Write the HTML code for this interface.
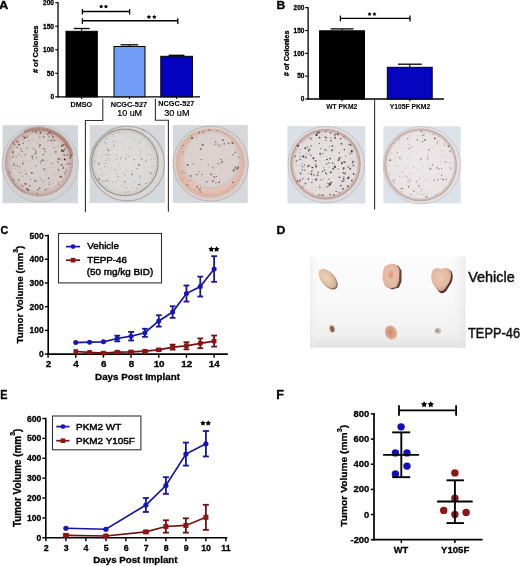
<!DOCTYPE html>
<html><head><meta charset="utf-8"><style>
html,body{margin:0;padding:0;background:#fff;width:520px;height:566px;overflow:hidden}
svg{display:block;font-family:"Liberation Sans", sans-serif;filter:blur(0.4px)}
</style></head><body>
<svg width="520" height="566" viewBox="0 0 520 566">
<rect width="520" height="566" fill="#fff"/>
<text transform="translate(-0.89,8.50) scale(1.1249,1)" font-size="11.45" font-weight="bold" fill="#000" stroke="#000" stroke-width="0.3" >A</text>
<line x1="58.00" y1="2.10" x2="58.00" y2="97.45" stroke="#000" stroke-width="1.3"/>
<line x1="57.35" y1="96.80" x2="200.00" y2="96.80" stroke="#000" stroke-width="1.3"/>
<line x1="55.20" y1="96.80" x2="58.00" y2="96.80" stroke="#000" stroke-width="1.1"/>
<text transform="translate(50.42,99.20) scale(0.9661,1)" font-size="6.86" font-weight="bold" fill="#000" stroke="#000" stroke-width="0.3">0</text>
<line x1="55.20" y1="73.28" x2="58.00" y2="73.28" stroke="#000" stroke-width="1.1"/>
<text transform="translate(46.71,75.68) scale(0.9661,1)" font-size="6.86" font-weight="bold" fill="#000" stroke="#000" stroke-width="0.3">50</text>
<line x1="55.20" y1="49.75" x2="58.00" y2="49.75" stroke="#000" stroke-width="1.1"/>
<text transform="translate(43.00,52.15) scale(0.9661,1)" font-size="6.86" font-weight="bold" fill="#000" stroke="#000" stroke-width="0.3">100</text>
<line x1="55.20" y1="26.22" x2="58.00" y2="26.22" stroke="#000" stroke-width="1.1"/>
<text transform="translate(43.00,28.62) scale(0.9661,1)" font-size="6.86" font-weight="bold" fill="#000" stroke="#000" stroke-width="0.3">150</text>
<line x1="55.20" y1="2.70" x2="58.00" y2="2.70" stroke="#000" stroke-width="1.1"/>
<text transform="translate(43.00,5.10) scale(0.9661,1)" font-size="6.86" font-weight="bold" fill="#000" stroke="#000" stroke-width="0.3">200</text>
<text transform="translate(38.40,73.05) rotate(-90) scale(0.9551,1)" font-size="7.95" font-weight="bold" fill="#000" stroke="#000" stroke-width="0.3"># of Colonies</text>
<line x1="81.65" y1="28.50" x2="81.65" y2="30.80" stroke="#000" stroke-width="1.2"/>
<line x1="73.80" y1="28.50" x2="89.60" y2="28.50" stroke="#000" stroke-width="1.3"/>
<rect x="66.00" y="31.30" width="31.30" height="65.50" fill="#000" stroke="#000" stroke-width="1"/>
<line x1="81.65" y1="96.80" x2="81.65" y2="99.00" stroke="#000" stroke-width="1.1"/>
<line x1="129.50" y1="44.80" x2="129.50" y2="46.00" stroke="#000" stroke-width="1.2"/>
<line x1="120.60" y1="44.80" x2="138.20" y2="44.80" stroke="#000" stroke-width="1.3"/>
<rect x="114.00" y="46.50" width="31.00" height="50.30" fill="#719df6" stroke="#000" stroke-width="1"/>
<line x1="129.50" y1="96.80" x2="129.50" y2="99.00" stroke="#000" stroke-width="1.1"/>
<line x1="176.65" y1="55.30" x2="176.65" y2="55.80" stroke="#000" stroke-width="1.2"/>
<line x1="168.60" y1="55.30" x2="184.40" y2="55.30" stroke="#000" stroke-width="1.3"/>
<rect x="160.80" y="56.30" width="31.70" height="40.50" fill="#0404c0" stroke="#000" stroke-width="1"/>
<line x1="176.65" y1="96.80" x2="176.65" y2="99.00" stroke="#000" stroke-width="1.1"/>
<line x1="82.40" y1="11.50" x2="129.60" y2="11.50" stroke="#000" stroke-width="1.4"/>
<line x1="82.40" y1="8.90" x2="82.40" y2="14.50" stroke="#000" stroke-width="1.3"/>
<line x1="129.60" y1="8.90" x2="129.60" y2="14.50" stroke="#000" stroke-width="1.3"/>
<polygon points="101.18,4.42 101.88,5.62 103.23,5.91 102.31,6.95 102.45,8.33 101.18,7.77 99.91,8.33 100.05,6.95 99.13,5.91 100.48,5.62" fill="#000"/>
<polygon points="105.92,4.42 106.62,5.62 107.97,5.91 107.05,6.95 107.19,8.33 105.92,7.77 104.65,8.33 104.79,6.95 103.87,5.91 105.22,5.62" fill="#000"/>
<line x1="82.40" y1="20.80" x2="177.80" y2="20.80" stroke="#000" stroke-width="1.4"/>
<line x1="82.40" y1="18.30" x2="82.40" y2="23.90" stroke="#000" stroke-width="1.3"/>
<line x1="177.80" y1="18.30" x2="177.80" y2="23.90" stroke="#000" stroke-width="1.3"/>
<polygon points="148.89,14.69 149.63,15.97 151.07,16.28 150.09,17.38 150.24,18.84 148.89,18.25 147.54,18.84 147.69,17.38 146.71,16.28 148.15,15.97" fill="#000"/>
<polygon points="154.31,14.69 155.05,15.97 156.49,16.28 155.51,17.38 155.66,18.84 154.31,18.25 152.96,18.84 153.11,17.38 152.13,16.28 153.57,15.97" fill="#000"/>
<text transform="translate(70.49,106.50) scale(0.9926,1)" font-size="7.29" font-weight="bold" fill="#000" stroke="#000" stroke-width="0.08" >DMSO</text>
<text transform="translate(110.73,106.50) scale(1.0102,1)" font-size="7.29" font-weight="bold" fill="#000" stroke="#000" stroke-width="0.08" >NCGC-527</text>
<text transform="translate(158.29,106.40) scale(1.0203,1)" font-size="7.14" font-weight="bold" fill="#000" stroke="#000" stroke-width="0.08" >NCGC-527</text>
<text transform="translate(117.29,116.40) scale(1.0375,1)" font-size="8.57" font-weight="normal" fill="#000" stroke="#000" stroke-width="0.2" >10 uM</text>
<text transform="translate(164.24,116.40) scale(1.0440,1)" font-size="8.71" font-weight="normal" fill="#000" stroke="#000" stroke-width="0.2" >30 uM</text>
<path d="M102.8 98.8 V120.5 H85.4 V212.2" fill="none" stroke="#333" stroke-width="1.1"/>
<path d="M155.4 98.8 V120.3 H168.4 V211.8" fill="none" stroke="#333" stroke-width="1.1"/>
<text transform="translate(276.55,8.60) scale(1.0463,1)" font-size="11.59" font-weight="bold" fill="#000" stroke="#000" stroke-width="0.3" >B</text>
<line x1="308.10" y1="7.10" x2="308.10" y2="99.65" stroke="#000" stroke-width="1.3"/>
<line x1="307.45" y1="99.00" x2="444.00" y2="99.00" stroke="#000" stroke-width="1.3"/>
<line x1="305.10" y1="99.00" x2="308.10" y2="99.00" stroke="#000" stroke-width="1.1"/>
<text transform="translate(300.82,101.30) scale(0.9796,1)" font-size="6.57" font-weight="bold" fill="#000" stroke="#000" stroke-width="0.3">0</text>
<line x1="305.10" y1="76.17" x2="308.10" y2="76.17" stroke="#000" stroke-width="1.1"/>
<text transform="translate(297.21,78.47) scale(0.9796,1)" font-size="6.57" font-weight="bold" fill="#000" stroke="#000" stroke-width="0.3">50</text>
<line x1="305.10" y1="53.35" x2="308.10" y2="53.35" stroke="#000" stroke-width="1.1"/>
<text transform="translate(293.61,55.65) scale(0.9796,1)" font-size="6.57" font-weight="bold" fill="#000" stroke="#000" stroke-width="0.3">100</text>
<line x1="305.10" y1="30.53" x2="308.10" y2="30.53" stroke="#000" stroke-width="1.1"/>
<text transform="translate(293.61,32.83) scale(0.9796,1)" font-size="6.57" font-weight="bold" fill="#000" stroke="#000" stroke-width="0.3">150</text>
<line x1="305.10" y1="7.70" x2="308.10" y2="7.70" stroke="#000" stroke-width="1.1"/>
<text transform="translate(293.61,10.00) scale(0.9796,1)" font-size="6.57" font-weight="bold" fill="#000" stroke="#000" stroke-width="0.3">200</text>
<text transform="translate(289.00,76.15) rotate(-90) scale(1.0202,1)" font-size="7.12" font-weight="bold" fill="#000" stroke="#000" stroke-width="0.3"># of Colonies</text>
<line x1="342.05" y1="28.90" x2="342.05" y2="30.30" stroke="#000" stroke-width="1.2"/>
<line x1="330.60" y1="28.90" x2="353.50" y2="28.90" stroke="#000" stroke-width="1.3"/>
<rect x="319.60" y="30.80" width="44.90" height="68.20" fill="#000" stroke="#000" stroke-width="1"/>
<line x1="342.05" y1="99.00" x2="342.05" y2="101.20" stroke="#000" stroke-width="1.1"/>
<line x1="409.75" y1="64.20" x2="409.75" y2="66.80" stroke="#000" stroke-width="1.2"/>
<line x1="398.00" y1="64.20" x2="421.80" y2="64.20" stroke="#000" stroke-width="1.3"/>
<rect x="387.30" y="67.30" width="44.90" height="31.70" fill="#0505bf" stroke="#000" stroke-width="1"/>
<line x1="409.75" y1="99.00" x2="409.75" y2="101.20" stroke="#000" stroke-width="1.1"/>
<line x1="340.40" y1="18.40" x2="410.00" y2="18.40" stroke="#000" stroke-width="1.4"/>
<line x1="340.40" y1="15.60" x2="340.40" y2="21.40" stroke="#000" stroke-width="1.3"/>
<line x1="410.00" y1="15.60" x2="410.00" y2="21.40" stroke="#000" stroke-width="1.3"/>
<polygon points="369.53,12.04 370.21,13.20 371.52,13.48 370.62,14.48 370.76,15.82 369.53,15.28 368.30,15.82 368.44,14.48 367.54,13.48 368.85,13.20" fill="#000"/>
<polygon points="374.47,12.04 375.15,13.20 376.46,13.48 375.56,14.48 375.70,15.82 374.47,15.28 373.24,15.82 373.38,14.48 372.48,13.48 373.79,13.20" fill="#000"/>
<text transform="translate(326.25,108.50) scale(0.8411,1)" font-size="8.00" font-weight="bold" fill="#000" stroke="#000" stroke-width="0.08" >WT PKM2</text>
<text transform="translate(389.66,108.50) scale(0.8938,1)" font-size="7.57" font-weight="bold" fill="#000" stroke="#000" stroke-width="0.08" >Y105F PKM2</text>
<line x1="374.60" y1="100.00" x2="374.60" y2="209.50" stroke="#333" stroke-width="1.1"/>
<defs><filter id="soft" x="-5%" y="-5%" width="110%" height="110%"><feGaussianBlur stdDeviation="0.35"/></filter></defs>
<g filter="url(#soft)">
<rect x="2.50" y="125.20" width="75.50" height="78.00" fill="#d2d6db"/>
<circle cx="40.2" cy="163.8" r="38.2" fill="#d2d0d0" stroke="#c2c1c1" stroke-width="1"/>
<defs><radialGradient id="pa1" cx="0.5" cy="0.5" r="0.5"><stop offset="0" stop-color="#d7d0cf"/><stop offset="0.8" stop-color="#d5cbc9"/><stop offset="0.93" stop-color="#c8b2ac"/><stop offset="1" stop-color="#b49a92"/></radialGradient></defs>
<circle cx="39.0" cy="162.4" r="34" fill="url(#pa1)"/>
<path d="M24 132 A34 34 0 0 1 72 156" fill="none" stroke="#a06a5a" stroke-width="3.6" opacity="0.6"/>
<path d="M8 170 A34 34 0 0 0 25 193" fill="none" stroke="#a88070" stroke-width="2" opacity="0.4"/>
<g><circle cx="37.5" cy="189.7" r="0.74" fill="#b8a8a4" opacity="0.55"/><circle cx="23.4" cy="140.4" r="0.83" fill="#b8a8a4" opacity="0.49"/><circle cx="55.4" cy="180.0" r="0.51" fill="#c0aca8" opacity="0.39"/><circle cx="58.1" cy="181.9" r="0.90" fill="#b8a8a4" opacity="0.60"/><circle cx="64.3" cy="177.4" r="0.84" fill="#c0aca8" opacity="0.38"/><circle cx="37.9" cy="130.3" r="0.80" fill="#b8a8a4" opacity="0.38"/><circle cx="10.4" cy="164.8" r="0.68" fill="#c0aca8" opacity="0.43"/><circle cx="59.2" cy="145.4" r="0.73" fill="#a89490" opacity="0.40"/><circle cx="48.8" cy="131.1" r="0.75" fill="#a89490" opacity="0.47"/><circle cx="60.8" cy="160.6" r="0.76" fill="#c0aca8" opacity="0.46"/><circle cx="46.0" cy="185.2" r="0.53" fill="#a89490" opacity="0.44"/><circle cx="33.1" cy="193.0" r="0.69" fill="#a89490" opacity="0.47"/><circle cx="40.3" cy="176.9" r="0.58" fill="#a89490" opacity="0.32"/><circle cx="23.5" cy="146.1" r="0.40" fill="#b8a8a4" opacity="0.43"/><circle cx="42.7" cy="185.4" r="0.75" fill="#c0aca8" opacity="0.43"/><circle cx="50.4" cy="180.3" r="0.83" fill="#c0aca8" opacity="0.57"/><circle cx="47.9" cy="191.6" r="0.59" fill="#b8a8a4" opacity="0.51"/><circle cx="61.5" cy="146.3" r="0.52" fill="#a89490" opacity="0.45"/><circle cx="65.7" cy="169.7" r="0.42" fill="#a89490" opacity="0.47"/><circle cx="29.3" cy="177.5" r="0.48" fill="#b8a8a4" opacity="0.51"/><circle cx="50.0" cy="154.5" r="0.61" fill="#a89490" opacity="0.48"/><circle cx="28.0" cy="131.8" r="0.81" fill="#a89490" opacity="0.49"/><circle cx="72.0" cy="163.0" r="0.46" fill="#c0aca8" opacity="0.39"/><circle cx="13.7" cy="151.4" r="0.87" fill="#b8a8a4" opacity="0.46"/><circle cx="58.1" cy="163.1" r="0.65" fill="#a89490" opacity="0.59"/><circle cx="46.0" cy="148.5" r="0.50" fill="#c0aca8" opacity="0.54"/><circle cx="7.5" cy="162.1" r="0.77" fill="#a89490" opacity="0.38"/><circle cx="45.9" cy="148.7" r="0.61" fill="#b8a8a4" opacity="0.37"/><circle cx="20.9" cy="150.6" r="0.72" fill="#c0aca8" opacity="0.43"/><circle cx="31.2" cy="168.2" r="0.78" fill="#b8a8a4" opacity="0.48"/><circle cx="28.6" cy="147.4" r="0.62" fill="#c0aca8" opacity="0.60"/><circle cx="30.2" cy="177.8" r="0.62" fill="#b8a8a4" opacity="0.34"/><circle cx="61.8" cy="181.8" r="0.51" fill="#c0aca8" opacity="0.39"/><circle cx="34.1" cy="181.2" r="0.45" fill="#a89490" opacity="0.45"/><circle cx="62.4" cy="139.4" r="0.42" fill="#b8a8a4" opacity="0.46"/><circle cx="46.2" cy="160.9" r="0.48" fill="#a89490" opacity="0.57"/><circle cx="40.6" cy="164.0" r="0.52" fill="#b8a8a4" opacity="0.56"/><circle cx="65.9" cy="179.4" r="0.44" fill="#b8a8a4" opacity="0.38"/><circle cx="54.4" cy="167.1" r="0.81" fill="#c0aca8" opacity="0.37"/><circle cx="46.0" cy="181.9" r="0.43" fill="#b8a8a4" opacity="0.46"/><circle cx="48.1" cy="170.5" r="0.67" fill="#a89490" opacity="0.54"/><circle cx="28.9" cy="170.1" r="0.67" fill="#c0aca8" opacity="0.38"/><circle cx="44.4" cy="164.2" r="0.76" fill="#a89490" opacity="0.33"/><circle cx="37.7" cy="172.3" r="0.57" fill="#b8a8a4" opacity="0.49"/><circle cx="17.3" cy="141.5" r="0.76" fill="#b8a8a4" opacity="0.39"/><circle cx="53.2" cy="174.0" r="0.90" fill="#c0aca8" opacity="0.44"/><circle cx="46.4" cy="172.8" r="0.55" fill="#a89490" opacity="0.46"/><circle cx="37.9" cy="181.4" r="0.87" fill="#c0aca8" opacity="0.37"/><circle cx="10.6" cy="178.9" r="0.78" fill="#c0aca8" opacity="0.45"/><circle cx="53.1" cy="183.2" r="0.88" fill="#c0aca8" opacity="0.44"/><circle cx="32.3" cy="133.1" r="0.41" fill="#c0aca8" opacity="0.57"/><circle cx="45.0" cy="149.8" r="0.45" fill="#c0aca8" opacity="0.48"/><circle cx="66.4" cy="177.6" r="0.69" fill="#b8a8a4" opacity="0.52"/><circle cx="45.3" cy="190.2" r="0.72" fill="#a89490" opacity="0.43"/><circle cx="69.4" cy="166.6" r="0.47" fill="#b8a8a4" opacity="0.55"/><circle cx="22.5" cy="139.5" r="0.61" fill="#b8a8a4" opacity="0.53"/><circle cx="13.4" cy="164.6" r="0.52" fill="#b8a8a4" opacity="0.46"/><circle cx="10.9" cy="148.9" r="0.85" fill="#a89490" opacity="0.50"/><circle cx="65.2" cy="171.1" r="0.61" fill="#a89490" opacity="0.57"/><circle cx="59.0" cy="164.0" r="0.47" fill="#c0aca8" opacity="0.44"/><circle cx="52.3" cy="138.6" r="0.76" fill="#a89490" opacity="0.50"/><circle cx="62.3" cy="177.7" r="0.46" fill="#b8a8a4" opacity="0.35"/><circle cx="63.8" cy="171.6" r="0.71" fill="#c0aca8" opacity="0.45"/><circle cx="53.5" cy="148.1" r="0.81" fill="#a89490" opacity="0.45"/><circle cx="30.5" cy="161.7" r="0.83" fill="#c0aca8" opacity="0.46"/><circle cx="24.8" cy="185.4" r="0.86" fill="#c0aca8" opacity="0.51"/><circle cx="13.7" cy="148.5" r="0.87" fill="#b8a8a4" opacity="0.39"/><circle cx="61.0" cy="160.5" r="0.61" fill="#a89490" opacity="0.47"/><circle cx="54.3" cy="168.6" r="0.40" fill="#c0aca8" opacity="0.46"/><circle cx="51.9" cy="142.1" r="0.62" fill="#b8a8a4" opacity="0.47"/><circle cx="48.3" cy="193.6" r="0.44" fill="#b8a8a4" opacity="0.33"/><circle cx="62.6" cy="155.7" r="0.71" fill="#b8a8a4" opacity="0.39"/><circle cx="46.6" cy="174.4" r="0.43" fill="#b8a8a4" opacity="0.43"/><circle cx="24.0" cy="139.0" r="0.75" fill="#a89490" opacity="0.54"/><circle cx="43.3" cy="168.7" r="0.71" fill="#a89490" opacity="0.46"/><circle cx="44.1" cy="134.3" r="0.45" fill="#c0aca8" opacity="0.53"/><circle cx="24.6" cy="170.1" r="0.54" fill="#a89490" opacity="0.47"/><circle cx="23.7" cy="171.1" r="0.77" fill="#a89490" opacity="0.36"/><circle cx="45.2" cy="166.0" r="0.46" fill="#b8a8a4" opacity="0.53"/><circle cx="44.5" cy="148.0" r="0.55" fill="#c0aca8" opacity="0.33"/><circle cx="33.2" cy="158.3" r="0.85" fill="#b8a8a4" opacity="0.46"/><circle cx="35.0" cy="147.0" r="0.57" fill="#b8a8a4" opacity="0.41"/><circle cx="33.6" cy="139.9" r="0.75" fill="#c0aca8" opacity="0.53"/><circle cx="18.7" cy="169.3" r="0.47" fill="#a89490" opacity="0.30"/><circle cx="51.4" cy="177.4" r="0.61" fill="#c0aca8" opacity="0.43"/><circle cx="20.4" cy="184.2" r="0.77" fill="#a89490" opacity="0.33"/><circle cx="46.3" cy="173.9" r="0.61" fill="#a89490" opacity="0.32"/><circle cx="28.5" cy="167.2" r="0.61" fill="#b8a8a4" opacity="0.36"/><circle cx="24.2" cy="148.6" r="0.41" fill="#c0aca8" opacity="0.54"/><circle cx="56.7" cy="151.4" r="0.44" fill="#b8a8a4" opacity="0.37"/><circle cx="51.8" cy="140.4" r="0.68" fill="#c0aca8" opacity="0.53"/><circle cx="63.3" cy="180.8" r="0.66" fill="#b8a8a4" opacity="0.44"/><circle cx="58.1" cy="146.8" r="0.68" fill="#b8a8a4" opacity="0.36"/><circle cx="45.9" cy="161.2" r="0.54" fill="#c0aca8" opacity="0.43"/><circle cx="50.5" cy="191.7" r="0.60" fill="#c0aca8" opacity="0.48"/><circle cx="41.9" cy="140.9" r="0.68" fill="#c0aca8" opacity="0.32"/><circle cx="43.7" cy="188.8" r="0.50" fill="#b8a8a4" opacity="0.56"/><circle cx="65.8" cy="169.1" r="0.62" fill="#a89490" opacity="0.52"/><circle cx="14.3" cy="182.1" r="0.65" fill="#c0aca8" opacity="0.56"/><circle cx="66.9" cy="179.1" r="0.69" fill="#a89490" opacity="0.43"/><circle cx="15.5" cy="160.6" r="0.43" fill="#a89490" opacity="0.54"/><circle cx="51.4" cy="187.6" r="0.41" fill="#a89490" opacity="0.51"/><circle cx="54.5" cy="146.0" r="0.42" fill="#b8a8a4" opacity="0.55"/><circle cx="34.0" cy="191.5" r="0.66" fill="#b8a8a4" opacity="0.34"/><circle cx="46.6" cy="135.4" r="0.41" fill="#c0aca8" opacity="0.47"/><circle cx="50.1" cy="182.3" r="0.50" fill="#b8a8a4" opacity="0.60"/><circle cx="25.9" cy="152.4" r="0.63" fill="#a89490" opacity="0.33"/><circle cx="22.0" cy="150.8" r="0.75" fill="#b8a8a4" opacity="0.36"/><circle cx="36.7" cy="142.1" r="0.50" fill="#c0aca8" opacity="0.60"/><circle cx="24.5" cy="132.8" r="0.47" fill="#a89490" opacity="0.49"/><circle cx="42.4" cy="131.6" r="0.82" fill="#a89490" opacity="0.47"/><circle cx="32.9" cy="138.2" r="0.44" fill="#a89490" opacity="0.52"/><circle cx="47.0" cy="143.1" r="0.61" fill="#c0aca8" opacity="0.53"/><circle cx="11.7" cy="171.0" r="0.45" fill="#b8a8a4" opacity="0.43"/><circle cx="32.2" cy="133.6" r="0.49" fill="#c0aca8" opacity="0.31"/><circle cx="62.9" cy="156.1" r="0.70" fill="#a89490" opacity="0.57"/><circle cx="38.4" cy="161.9" r="0.79" fill="#c0aca8" opacity="0.47"/><circle cx="23.2" cy="191.1" r="0.41" fill="#b8a8a4" opacity="0.42"/><circle cx="59.0" cy="186.0" r="0.62" fill="#b8a8a4" opacity="0.32"/><circle cx="54.4" cy="175.1" r="0.71" fill="#b8a8a4" opacity="0.50"/><circle cx="38.5" cy="139.4" r="0.69" fill="#b8a8a4" opacity="0.47"/><circle cx="11.7" cy="168.2" r="0.88" fill="#a89490" opacity="0.40"/><circle cx="48.0" cy="160.2" r="0.60" fill="#b8a8a4" opacity="0.42"/><circle cx="12.4" cy="144.3" r="0.48" fill="#b8a8a4" opacity="0.47"/><circle cx="25.4" cy="173.9" r="0.65" fill="#a89490" opacity="0.52"/><circle cx="26.3" cy="169.7" r="0.50" fill="#c0aca8" opacity="0.47"/><circle cx="36.1" cy="171.1" r="0.63" fill="#b8a8a4" opacity="0.36"/><circle cx="30.2" cy="142.7" r="0.44" fill="#b8a8a4" opacity="0.48"/><circle cx="22.8" cy="142.5" r="0.74" fill="#c0aca8" opacity="0.40"/><circle cx="43.5" cy="160.8" r="0.48" fill="#c0aca8" opacity="0.40"/><circle cx="37.7" cy="134.0" r="0.61" fill="#b8a8a4" opacity="0.57"/><circle cx="30.3" cy="142.8" r="0.58" fill="#c0aca8" opacity="0.35"/><circle cx="42.4" cy="135.5" r="0.52" fill="#a89490" opacity="0.56"/><circle cx="34.0" cy="163.0" r="0.56" fill="#b8a8a4" opacity="0.35"/><circle cx="42.7" cy="181.7" r="0.85" fill="#a89490" opacity="0.55"/><circle cx="36.6" cy="159.8" r="0.77" fill="#c0aca8" opacity="0.36"/><circle cx="47.3" cy="160.8" r="0.77" fill="#b8a8a4" opacity="0.37"/><circle cx="21.1" cy="172.7" r="0.81" fill="#c0aca8" opacity="0.39"/><circle cx="58.7" cy="170.9" r="0.72" fill="#b8a8a4" opacity="0.56"/><circle cx="22.8" cy="164.2" r="0.43" fill="#b8a8a4" opacity="0.34"/><circle cx="43.9" cy="171.1" r="0.73" fill="#b8a8a4" opacity="0.42"/><circle cx="23.4" cy="152.2" r="0.44" fill="#c0aca8" opacity="0.40"/><circle cx="18.0" cy="166.8" r="0.60" fill="#c0aca8" opacity="0.41"/><circle cx="22.1" cy="161.6" r="0.79" fill="#a89490" opacity="0.41"/><circle cx="50.4" cy="167.6" r="0.82" fill="#a89490" opacity="0.41"/><circle cx="19.7" cy="144.9" r="0.58" fill="#c0aca8" opacity="0.47"/><circle cx="38.5" cy="141.9" r="0.48" fill="#a89490" opacity="0.50"/><circle cx="65.7" cy="149.2" r="0.83" fill="#a89490" opacity="0.33"/><circle cx="46.3" cy="188.4" r="0.72" fill="#a89490" opacity="0.42"/><circle cx="24.1" cy="160.5" r="0.68" fill="#c0aca8" opacity="0.56"/><circle cx="38.1" cy="159.8" r="0.81" fill="#c0aca8" opacity="0.55"/><circle cx="56.0" cy="134.8" r="0.59" fill="#c0aca8" opacity="0.39"/><circle cx="58.6" cy="141.1" r="0.81" fill="#b8a8a4" opacity="0.31"/><circle cx="40.8" cy="130.0" r="0.78" fill="#c0aca8" opacity="0.56"/><circle cx="64.6" cy="145.6" r="0.58" fill="#b8a8a4" opacity="0.44"/><circle cx="18.9" cy="152.4" r="0.58" fill="#b8a8a4" opacity="0.42"/><circle cx="69.7" cy="151.9" r="0.89" fill="#b8a8a4" opacity="0.54"/><circle cx="60.1" cy="164.6" r="0.49" fill="#a89490" opacity="0.36"/><circle cx="70.5" cy="154.6" r="0.57" fill="#c0aca8" opacity="0.46"/><circle cx="27.7" cy="160.6" r="0.69" fill="#b8a8a4" opacity="0.57"/></g>
<g><circle cx="64.8" cy="149.1" r="0.82" fill="#7a4a40" opacity="0.58"/><circle cx="60.4" cy="176.8" r="0.95" fill="#5a3430" opacity="0.81"/><circle cx="51.4" cy="140.4" r="0.98" fill="#7a4a40" opacity="0.77"/><circle cx="48.2" cy="188.2" r="0.50" fill="#4a2a28" opacity="0.54"/><circle cx="63.6" cy="151.1" r="0.92" fill="#5a3430" opacity="0.73"/><circle cx="54.4" cy="140.5" r="1.00" fill="#7a4a40" opacity="0.71"/><circle cx="26.0" cy="183.9" r="0.73" fill="#6a3a34" opacity="0.92"/><circle cx="39.6" cy="187.9" r="0.94" fill="#6a3a34" opacity="0.58"/><circle cx="10.0" cy="172.3" r="0.57" fill="#5a3430" opacity="0.79"/><circle cx="71.1" cy="157.3" r="0.51" fill="#5a3430" opacity="0.58"/><circle cx="66.6" cy="169.9" r="0.51" fill="#4a2a28" opacity="0.77"/><circle cx="18.8" cy="179.9" r="0.85" fill="#4a2a28" opacity="0.51"/><circle cx="67.6" cy="154.9" r="0.98" fill="#6a3a34" opacity="0.58"/><circle cx="27.9" cy="190.1" r="0.90" fill="#6a3a34" opacity="0.57"/><circle cx="27.9" cy="135.8" r="0.54" fill="#5a3430" opacity="0.52"/><circle cx="17.2" cy="147.3" r="0.90" fill="#6a3a34" opacity="0.53"/><circle cx="19.0" cy="144.6" r="1.00" fill="#5a3430" opacity="0.84"/><circle cx="65.0" cy="172.8" r="0.81" fill="#4a2a28" opacity="0.56"/><circle cx="27.7" cy="189.9" r="0.54" fill="#4a2a28" opacity="0.53"/><circle cx="36.5" cy="131.4" r="1.00" fill="#7a4a40" opacity="0.66"/><circle cx="62.0" cy="145.8" r="0.93" fill="#5a3430" opacity="0.89"/><circle cx="18.1" cy="141.5" r="0.83" fill="#5a3430" opacity="0.54"/><circle cx="34.8" cy="132.0" r="0.82" fill="#5a3430" opacity="0.70"/><circle cx="29.7" cy="185.8" r="1.03" fill="#7a4a40" opacity="0.55"/><circle cx="38.0" cy="189.9" r="0.87" fill="#6a3a34" opacity="0.59"/><circle cx="39.8" cy="130.4" r="0.77" fill="#7a4a40" opacity="0.61"/><circle cx="24.6" cy="137.8" r="0.94" fill="#6a3a34" opacity="0.91"/><circle cx="27.2" cy="188.9" r="0.96" fill="#5a3430" opacity="0.88"/><circle cx="64.1" cy="154.2" r="0.75" fill="#6a3a34" opacity="0.62"/><circle cx="53.2" cy="136.9" r="0.87" fill="#7a4a40" opacity="0.82"/><circle cx="26.8" cy="137.3" r="0.86" fill="#6a3a34" opacity="0.75"/><circle cx="13.4" cy="179.8" r="0.65" fill="#5a3430" opacity="0.85"/><circle cx="64.8" cy="159.8" r="0.79" fill="#4a2a28" opacity="0.79"/><circle cx="64.8" cy="155.5" r="0.76" fill="#5a3430" opacity="0.58"/><circle cx="39.8" cy="137.1" r="0.62" fill="#6a3a34" opacity="0.85"/><circle cx="65.6" cy="144.6" r="0.90" fill="#7a4a40" opacity="0.56"/><circle cx="69.1" cy="163.7" r="0.78" fill="#4a2a28" opacity="0.87"/><circle cx="51.7" cy="134.6" r="0.62" fill="#5a3430" opacity="0.90"/><circle cx="69.8" cy="158.0" r="0.68" fill="#5a3430" opacity="0.91"/><circle cx="22.4" cy="185.7" r="0.80" fill="#7a4a40" opacity="0.85"/><circle cx="66.7" cy="147.1" r="0.74" fill="#4a2a28" opacity="0.52"/><circle cx="63.6" cy="144.7" r="0.74" fill="#5a3430" opacity="0.90"/><circle cx="40.4" cy="133.0" r="0.96" fill="#6a3a34" opacity="0.75"/><circle cx="12.9" cy="152.1" r="0.96" fill="#6a3a34" opacity="0.91"/><circle cx="29.2" cy="190.0" r="0.65" fill="#7a4a40" opacity="0.72"/><circle cx="13.5" cy="142.6" r="0.78" fill="#5a3430" opacity="0.68"/><circle cx="64.5" cy="149.1" r="0.57" fill="#7a4a40" opacity="0.70"/><circle cx="11.0" cy="158.0" r="0.52" fill="#5a3430" opacity="0.62"/><circle cx="63.5" cy="168.0" r="0.66" fill="#6a3a34" opacity="0.83"/><circle cx="16.6" cy="141.4" r="0.57" fill="#4a2a28" opacity="0.73"/><circle cx="32.6" cy="131.4" r="0.51" fill="#6a3a34" opacity="0.78"/><circle cx="12.8" cy="156.7" r="0.80" fill="#6a3a34" opacity="0.76"/><circle cx="49.2" cy="136.8" r="0.67" fill="#6a3a34" opacity="0.92"/><circle cx="43.6" cy="137.0" r="0.99" fill="#5a3430" opacity="0.56"/><circle cx="37.1" cy="193.7" r="0.73" fill="#6a3a34" opacity="0.86"/><circle cx="47.9" cy="134.3" r="0.70" fill="#4a2a28" opacity="0.87"/><circle cx="40.6" cy="132.1" r="0.60" fill="#5a3430" opacity="0.53"/><circle cx="13.2" cy="165.4" r="0.59" fill="#4a2a28" opacity="0.57"/><circle cx="61.9" cy="151.1" r="1.02" fill="#5a3430" opacity="0.71"/><circle cx="14.5" cy="144.4" r="0.96" fill="#7a4a40" opacity="0.58"/><circle cx="61.8" cy="150.2" r="0.94" fill="#5a3430" opacity="0.65"/><circle cx="49.1" cy="132.5" r="0.85" fill="#6a3a34" opacity="0.68"/><circle cx="49.8" cy="132.4" r="0.91" fill="#7a4a40" opacity="0.85"/><circle cx="58.6" cy="184.1" r="0.70" fill="#6a3a34" opacity="0.69"/><circle cx="65.0" cy="174.7" r="0.51" fill="#5a3430" opacity="0.66"/><circle cx="23.8" cy="136.3" r="0.81" fill="#7a4a40" opacity="0.74"/><circle cx="45.5" cy="189.9" r="0.82" fill="#5a3430" opacity="0.55"/><circle cx="37.0" cy="134.2" r="0.53" fill="#7a4a40" opacity="0.59"/><circle cx="66.2" cy="164.2" r="0.69" fill="#7a4a40" opacity="0.74"/><circle cx="70.8" cy="155.7" r="0.85" fill="#5a3430" opacity="0.86"/></g>
<g><circle cx="17.4" cy="165.9" r="0.78" fill="#4a3230" opacity="0.47"/><circle cx="57.8" cy="162.0" r="0.77" fill="#5a4040" opacity="0.63"/><circle cx="18.5" cy="154.5" r="0.52" fill="#5a4040" opacity="0.62"/><circle cx="32.4" cy="172.9" r="0.74" fill="#3a2a2a" opacity="0.50"/><circle cx="28.9" cy="140.5" r="0.49" fill="#5a4040" opacity="0.86"/><circle cx="61.6" cy="176.9" r="0.92" fill="#6a5050" opacity="0.46"/><circle cx="58.5" cy="158.8" r="0.89" fill="#4a3230" opacity="0.68"/><circle cx="20.9" cy="155.9" r="0.49" fill="#6a5050" opacity="0.70"/><circle cx="22.4" cy="164.8" r="0.47" fill="#5a4040" opacity="0.76"/><circle cx="60.8" cy="159.1" r="0.63" fill="#6a5050" opacity="0.58"/><circle cx="34.8" cy="154.3" r="0.57" fill="#5a4040" opacity="0.58"/><circle cx="63.1" cy="166.7" r="0.67" fill="#5a4040" opacity="0.66"/><circle cx="36.5" cy="157.4" r="0.55" fill="#5a4040" opacity="0.70"/><circle cx="48.8" cy="182.7" r="0.47" fill="#3a2a2a" opacity="0.54"/><circle cx="20.6" cy="148.6" r="0.71" fill="#3a2a2a" opacity="0.58"/><circle cx="35.3" cy="180.7" r="0.93" fill="#5a4040" opacity="0.64"/><circle cx="19.5" cy="166.8" r="0.54" fill="#5a4040" opacity="0.78"/><circle cx="40.9" cy="161.2" r="0.58" fill="#3a2a2a" opacity="0.79"/><circle cx="49.3" cy="184.2" r="0.70" fill="#4a3230" opacity="0.52"/><circle cx="65.8" cy="159.7" r="0.70" fill="#3a2a2a" opacity="0.41"/><circle cx="55.3" cy="147.5" r="0.59" fill="#6a5050" opacity="0.46"/><circle cx="23.0" cy="163.4" r="0.79" fill="#5a4040" opacity="0.62"/><circle cx="18.9" cy="169.1" r="0.47" fill="#6a5050" opacity="0.57"/><circle cx="35.5" cy="150.4" r="0.59" fill="#4a3230" opacity="0.53"/><circle cx="35.6" cy="153.2" r="0.89" fill="#5a4040" opacity="0.61"/><circle cx="44.7" cy="180.0" r="0.48" fill="#3a2a2a" opacity="0.69"/><circle cx="40.1" cy="145.0" r="0.74" fill="#5a4040" opacity="0.85"/><circle cx="25.1" cy="154.7" r="0.63" fill="#5a4040" opacity="0.77"/><circle cx="61.6" cy="164.8" r="0.90" fill="#4a3230" opacity="0.80"/><circle cx="55.7" cy="151.9" r="0.84" fill="#4a3230" opacity="0.59"/><circle cx="36.1" cy="151.0" r="0.59" fill="#6a5050" opacity="0.80"/><circle cx="32.1" cy="155.8" r="0.72" fill="#6a5050" opacity="0.75"/><circle cx="32.7" cy="158.9" r="0.63" fill="#3a2a2a" opacity="0.44"/><circle cx="44.1" cy="168.7" r="0.61" fill="#6a5050" opacity="0.75"/><circle cx="35.9" cy="165.9" r="0.69" fill="#5a4040" opacity="0.62"/><circle cx="58.5" cy="169.7" r="0.68" fill="#4a3230" opacity="0.84"/><circle cx="41.2" cy="161.6" r="0.63" fill="#5a4040" opacity="0.54"/><circle cx="33.5" cy="148.8" r="0.71" fill="#3a2a2a" opacity="0.47"/><circle cx="48.6" cy="178.1" r="0.75" fill="#5a4040" opacity="0.82"/><circle cx="15.8" cy="168.3" r="0.47" fill="#6a5050" opacity="0.79"/><circle cx="16.1" cy="156.8" r="0.65" fill="#4a3230" opacity="0.74"/><circle cx="58.8" cy="158.9" r="0.79" fill="#4a3230" opacity="0.58"/><circle cx="30.6" cy="179.6" r="0.63" fill="#5a4040" opacity="0.55"/><circle cx="15.1" cy="165.9" r="0.52" fill="#6a5050" opacity="0.65"/><circle cx="43.8" cy="148.8" r="0.92" fill="#6a5050" opacity="0.70"/><circle cx="48.2" cy="140.3" r="0.75" fill="#3a2a2a" opacity="0.47"/><circle cx="23.3" cy="143.2" r="0.75" fill="#6a5050" opacity="0.79"/><circle cx="19.6" cy="172.5" r="0.62" fill="#6a5050" opacity="0.78"/><circle cx="26.2" cy="173.7" r="0.85" fill="#5a4040" opacity="0.48"/><circle cx="43.6" cy="154.7" r="0.58" fill="#3a2a2a" opacity="0.84"/><circle cx="64.6" cy="159.2" r="0.84" fill="#3a2a2a" opacity="0.83"/><circle cx="45.2" cy="151.6" r="0.89" fill="#3a2a2a" opacity="0.41"/><circle cx="62.4" cy="168.8" r="0.55" fill="#3a2a2a" opacity="0.50"/><circle cx="63.0" cy="150.6" r="0.84" fill="#4a3230" opacity="0.67"/><circle cx="32.2" cy="157.0" r="0.79" fill="#6a5050" opacity="0.67"/><circle cx="40.7" cy="163.6" r="0.51" fill="#6a5050" opacity="0.60"/><circle cx="26.8" cy="148.5" r="0.77" fill="#6a5050" opacity="0.59"/><circle cx="42.5" cy="159.6" r="0.87" fill="#5a4040" opacity="0.41"/><circle cx="14.1" cy="163.7" r="0.80" fill="#6a5050" opacity="0.88"/><circle cx="13.7" cy="154.4" r="0.64" fill="#5a4040" opacity="0.44"/><circle cx="31.5" cy="173.0" r="0.66" fill="#4a3230" opacity="0.80"/><circle cx="43.3" cy="160.5" r="0.79" fill="#4a3230" opacity="0.68"/><circle cx="21.8" cy="151.0" r="0.85" fill="#6a5050" opacity="0.71"/><circle cx="39.8" cy="144.8" r="0.72" fill="#5a4040" opacity="0.56"/><circle cx="22.1" cy="176.3" r="0.62" fill="#3a2a2a" opacity="0.43"/><circle cx="44.9" cy="169.8" r="0.69" fill="#3a2a2a" opacity="0.47"/><circle cx="51.9" cy="163.4" r="0.69" fill="#6a5050" opacity="0.77"/><circle cx="39.7" cy="146.7" r="0.64" fill="#6a5050" opacity="0.83"/><circle cx="25.0" cy="183.7" r="0.77" fill="#4a3230" opacity="0.71"/><circle cx="41.0" cy="179.0" r="0.76" fill="#6a5050" opacity="0.46"/></g>
</g>
<g filter="url(#soft)">
<rect x="89.70" y="125.10" width="75.30" height="77.80" fill="#d4d8dd"/>
<circle cx="127.2" cy="163.6" r="37.3" fill="#d8d7d6" stroke="#aaa7a4" stroke-width="1.1"/>
<defs><radialGradient id="pa2" cx="0.5" cy="0.5" r="0.5"><stop offset="0" stop-color="#dedddc"/><stop offset="0.85" stop-color="#dbd9d8"/><stop offset="1" stop-color="#cdc8c4"/></radialGradient></defs>
<circle cx="124.9" cy="162.4" r="33.2" fill="url(#pa2)" stroke="#9a948e" stroke-width="1.2"/>
<g><circle cx="151.8" cy="148.7" r="0.85" fill="#bcbcbc" opacity="0.33"/><circle cx="118.2" cy="180.3" r="0.58" fill="#a8a8a8" opacity="0.52"/><circle cx="111.2" cy="167.4" r="0.63" fill="#b0b0b0" opacity="0.31"/><circle cx="146.6" cy="159.8" r="0.41" fill="#a8a8a8" opacity="0.49"/><circle cx="120.2" cy="168.2" r="0.79" fill="#bcbcbc" opacity="0.48"/><circle cx="131.7" cy="175.1" r="0.77" fill="#a8a8a8" opacity="0.47"/><circle cx="141.0" cy="159.2" r="0.89" fill="#a8a8a8" opacity="0.47"/><circle cx="134.4" cy="181.8" r="0.80" fill="#b0b0b0" opacity="0.50"/><circle cx="130.3" cy="174.3" r="0.56" fill="#b0b0b0" opacity="0.54"/><circle cx="117.2" cy="158.0" r="0.61" fill="#bcbcbc" opacity="0.47"/><circle cx="120.4" cy="185.8" r="0.45" fill="#bcbcbc" opacity="0.57"/><circle cx="115.7" cy="188.1" r="0.67" fill="#b0b0b0" opacity="0.38"/><circle cx="117.1" cy="155.1" r="0.80" fill="#a8a8a8" opacity="0.45"/><circle cx="96.4" cy="154.0" r="0.70" fill="#b0b0b0" opacity="0.58"/><circle cx="119.5" cy="164.2" r="0.72" fill="#b0b0b0" opacity="0.42"/><circle cx="134.3" cy="138.5" r="0.89" fill="#b0b0b0" opacity="0.54"/><circle cx="95.0" cy="155.0" r="0.77" fill="#a8a8a8" opacity="0.40"/><circle cx="118.9" cy="162.8" r="0.53" fill="#a8a8a8" opacity="0.46"/><circle cx="138.6" cy="158.0" r="0.45" fill="#b0b0b0" opacity="0.46"/><circle cx="116.5" cy="140.8" r="0.52" fill="#b0b0b0" opacity="0.33"/><circle cx="141.7" cy="150.3" r="0.57" fill="#b0b0b0" opacity="0.57"/><circle cx="145.2" cy="146.7" r="0.61" fill="#bcbcbc" opacity="0.51"/><circle cx="124.3" cy="139.5" r="0.61" fill="#bcbcbc" opacity="0.39"/><circle cx="119.5" cy="157.9" r="0.54" fill="#b0b0b0" opacity="0.31"/><circle cx="113.4" cy="182.5" r="0.82" fill="#bcbcbc" opacity="0.37"/><circle cx="145.4" cy="173.4" r="0.67" fill="#bcbcbc" opacity="0.37"/><circle cx="151.6" cy="155.1" r="0.89" fill="#a8a8a8" opacity="0.38"/><circle cx="105.2" cy="181.6" r="0.47" fill="#b0b0b0" opacity="0.56"/><circle cx="126.4" cy="157.2" r="0.73" fill="#b0b0b0" opacity="0.52"/><circle cx="110.6" cy="170.3" r="0.70" fill="#bcbcbc" opacity="0.60"/><circle cx="103.8" cy="154.7" r="0.55" fill="#b0b0b0" opacity="0.57"/><circle cx="126.0" cy="170.0" r="0.85" fill="#b0b0b0" opacity="0.41"/><circle cx="113.7" cy="141.0" r="0.55" fill="#a8a8a8" opacity="0.40"/><circle cx="130.4" cy="147.1" r="0.87" fill="#b0b0b0" opacity="0.35"/><circle cx="100.4" cy="176.0" r="0.64" fill="#a8a8a8" opacity="0.47"/><circle cx="99.9" cy="156.2" r="0.59" fill="#b0b0b0" opacity="0.57"/><circle cx="114.6" cy="162.2" r="0.63" fill="#bcbcbc" opacity="0.34"/><circle cx="125.2" cy="159.7" r="0.42" fill="#b0b0b0" opacity="0.53"/><circle cx="125.4" cy="193.1" r="0.72" fill="#b0b0b0" opacity="0.31"/><circle cx="121.9" cy="180.8" r="0.47" fill="#b0b0b0" opacity="0.55"/><circle cx="134.3" cy="182.4" r="0.71" fill="#b0b0b0" opacity="0.41"/><circle cx="106.6" cy="144.1" r="0.70" fill="#b0b0b0" opacity="0.31"/><circle cx="136.2" cy="155.4" r="0.41" fill="#b0b0b0" opacity="0.48"/><circle cx="140.2" cy="155.4" r="0.85" fill="#b0b0b0" opacity="0.39"/><circle cx="135.4" cy="140.7" r="0.70" fill="#b0b0b0" opacity="0.40"/><circle cx="117.6" cy="172.4" r="0.51" fill="#a8a8a8" opacity="0.59"/><circle cx="125.6" cy="147.8" r="0.69" fill="#bcbcbc" opacity="0.58"/><circle cx="108.7" cy="181.5" r="0.77" fill="#a8a8a8" opacity="0.58"/><circle cx="100.7" cy="169.2" r="0.88" fill="#a8a8a8" opacity="0.49"/><circle cx="105.0" cy="181.1" r="0.82" fill="#a8a8a8" opacity="0.31"/><circle cx="116.5" cy="173.9" r="0.73" fill="#a8a8a8" opacity="0.35"/><circle cx="118.6" cy="166.5" r="0.56" fill="#b0b0b0" opacity="0.43"/><circle cx="108.0" cy="151.8" r="0.52" fill="#bcbcbc" opacity="0.39"/><circle cx="116.9" cy="189.3" r="0.60" fill="#a8a8a8" opacity="0.41"/><circle cx="147.1" cy="157.8" r="0.71" fill="#bcbcbc" opacity="0.43"/><circle cx="133.5" cy="181.1" r="0.50" fill="#b0b0b0" opacity="0.53"/><circle cx="123.2" cy="162.9" r="0.72" fill="#bcbcbc" opacity="0.38"/><circle cx="143.8" cy="166.5" r="0.89" fill="#bcbcbc" opacity="0.52"/><circle cx="153.7" cy="158.8" r="0.76" fill="#b0b0b0" opacity="0.34"/><circle cx="125.1" cy="134.5" r="0.63" fill="#b0b0b0" opacity="0.53"/><circle cx="102.1" cy="174.3" r="0.89" fill="#b0b0b0" opacity="0.54"/><circle cx="105.4" cy="143.9" r="0.70" fill="#b0b0b0" opacity="0.46"/><circle cx="141.3" cy="140.4" r="0.56" fill="#a8a8a8" opacity="0.51"/><circle cx="102.0" cy="163.4" r="0.80" fill="#bcbcbc" opacity="0.39"/><circle cx="152.2" cy="166.2" r="0.68" fill="#b0b0b0" opacity="0.57"/><circle cx="150.2" cy="173.0" r="0.47" fill="#bcbcbc" opacity="0.58"/><circle cx="151.7" cy="147.9" r="0.46" fill="#b0b0b0" opacity="0.55"/><circle cx="139.4" cy="135.7" r="0.42" fill="#bcbcbc" opacity="0.44"/><circle cx="140.4" cy="165.9" r="0.67" fill="#bcbcbc" opacity="0.43"/><circle cx="107.4" cy="139.3" r="0.50" fill="#bcbcbc" opacity="0.52"/><circle cx="113.8" cy="139.9" r="0.47" fill="#a8a8a8" opacity="0.55"/><circle cx="148.3" cy="171.9" r="0.47" fill="#b0b0b0" opacity="0.59"/><circle cx="109.3" cy="151.1" r="0.42" fill="#a8a8a8" opacity="0.53"/><circle cx="132.2" cy="138.8" r="0.47" fill="#a8a8a8" opacity="0.54"/><circle cx="106.6" cy="138.5" r="0.68" fill="#b0b0b0" opacity="0.59"/><circle cx="130.3" cy="155.3" r="0.56" fill="#bcbcbc" opacity="0.50"/><circle cx="137.3" cy="165.1" r="0.55" fill="#b0b0b0" opacity="0.55"/><circle cx="132.1" cy="171.5" r="0.69" fill="#bcbcbc" opacity="0.59"/><circle cx="139.1" cy="139.6" r="0.50" fill="#bcbcbc" opacity="0.35"/><circle cx="101.7" cy="156.9" r="0.87" fill="#b0b0b0" opacity="0.54"/><circle cx="122.5" cy="186.3" r="0.81" fill="#b0b0b0" opacity="0.52"/><circle cx="140.1" cy="175.9" r="0.43" fill="#a8a8a8" opacity="0.50"/><circle cx="151.9" cy="159.6" r="0.45" fill="#a8a8a8" opacity="0.37"/><circle cx="111.1" cy="147.6" r="0.51" fill="#b0b0b0" opacity="0.47"/><circle cx="113.0" cy="182.4" r="0.89" fill="#b0b0b0" opacity="0.33"/><circle cx="123.9" cy="150.3" r="0.68" fill="#b0b0b0" opacity="0.49"/><circle cx="118.1" cy="164.8" r="0.86" fill="#bcbcbc" opacity="0.38"/><circle cx="132.0" cy="187.5" r="0.74" fill="#a8a8a8" opacity="0.39"/><circle cx="148.2" cy="147.7" r="0.45" fill="#a8a8a8" opacity="0.46"/><circle cx="106.0" cy="181.0" r="0.49" fill="#b0b0b0" opacity="0.56"/><circle cx="153.3" cy="166.7" r="0.79" fill="#b0b0b0" opacity="0.51"/><circle cx="140.0" cy="142.0" r="0.73" fill="#a8a8a8" opacity="0.55"/><circle cx="148.2" cy="154.3" r="0.86" fill="#a8a8a8" opacity="0.34"/><circle cx="136.2" cy="174.1" r="0.67" fill="#bcbcbc" opacity="0.48"/><circle cx="102.6" cy="152.0" r="0.66" fill="#b0b0b0" opacity="0.50"/><circle cx="109.0" cy="150.8" r="0.57" fill="#b0b0b0" opacity="0.35"/><circle cx="146.3" cy="145.1" r="0.67" fill="#a8a8a8" opacity="0.56"/><circle cx="107.2" cy="186.4" r="0.79" fill="#b0b0b0" opacity="0.50"/><circle cx="123.3" cy="172.8" r="0.70" fill="#a8a8a8" opacity="0.37"/><circle cx="98.9" cy="175.6" r="0.52" fill="#bcbcbc" opacity="0.33"/><circle cx="109.2" cy="160.1" r="0.87" fill="#b0b0b0" opacity="0.36"/><circle cx="113.1" cy="134.0" r="0.89" fill="#bcbcbc" opacity="0.34"/><circle cx="113.1" cy="186.9" r="0.60" fill="#b0b0b0" opacity="0.41"/><circle cx="100.6" cy="147.4" r="0.43" fill="#a8a8a8" opacity="0.41"/><circle cx="102.6" cy="148.0" r="0.43" fill="#b0b0b0" opacity="0.34"/><circle cx="140.2" cy="176.0" r="0.83" fill="#b0b0b0" opacity="0.41"/><circle cx="140.4" cy="152.0" r="0.55" fill="#a8a8a8" opacity="0.56"/><circle cx="151.8" cy="147.0" r="0.50" fill="#a8a8a8" opacity="0.47"/><circle cx="146.7" cy="146.8" r="0.54" fill="#bcbcbc" opacity="0.45"/><circle cx="130.6" cy="136.5" r="0.82" fill="#bcbcbc" opacity="0.55"/><circle cx="105.0" cy="177.6" r="0.46" fill="#a8a8a8" opacity="0.30"/><circle cx="149.3" cy="147.6" r="0.62" fill="#b0b0b0" opacity="0.37"/><circle cx="117.4" cy="151.1" r="0.42" fill="#bcbcbc" opacity="0.56"/><circle cx="130.8" cy="178.6" r="0.64" fill="#b0b0b0" opacity="0.57"/><circle cx="130.3" cy="147.7" r="0.66" fill="#bcbcbc" opacity="0.35"/><circle cx="145.0" cy="161.3" r="0.50" fill="#a8a8a8" opacity="0.51"/><circle cx="153.4" cy="157.6" r="0.46" fill="#a8a8a8" opacity="0.52"/><circle cx="136.9" cy="188.0" r="0.51" fill="#bcbcbc" opacity="0.37"/><circle cx="116.0" cy="142.0" r="0.61" fill="#a8a8a8" opacity="0.59"/><circle cx="135.4" cy="190.1" r="0.42" fill="#b0b0b0" opacity="0.46"/></g>
<g><circle cx="138.0" cy="184.6" r="0.69" fill="#606060" opacity="0.57"/><circle cx="146.2" cy="161.0" r="0.83" fill="#606060" opacity="0.43"/><circle cx="125.8" cy="158.8" r="0.82" fill="#606060" opacity="0.54"/><circle cx="129.0" cy="148.0" r="0.50" fill="#707070" opacity="0.37"/><circle cx="120.6" cy="158.6" r="0.55" fill="#505050" opacity="0.57"/><circle cx="107.1" cy="138.2" r="0.41" fill="#505050" opacity="0.68"/><circle cx="146.0" cy="183.5" r="0.60" fill="#3a3a3a" opacity="0.60"/><circle cx="115.1" cy="169.4" r="0.70" fill="#606060" opacity="0.56"/><circle cx="137.2" cy="168.6" r="0.70" fill="#505050" opacity="0.71"/><circle cx="140.3" cy="177.3" r="0.77" fill="#606060" opacity="0.44"/><circle cx="140.0" cy="149.5" r="0.56" fill="#707070" opacity="0.55"/><circle cx="116.0" cy="182.0" r="0.52" fill="#606060" opacity="0.73"/><circle cx="118.7" cy="132.1" r="0.62" fill="#606060" opacity="0.57"/><circle cx="109.1" cy="154.8" r="0.84" fill="#606060" opacity="0.40"/><circle cx="105.1" cy="142.2" r="0.55" fill="#3a3a3a" opacity="0.69"/><circle cx="125.2" cy="175.1" r="0.82" fill="#707070" opacity="0.43"/><circle cx="106.8" cy="180.5" r="0.70" fill="#606060" opacity="0.75"/><circle cx="99.2" cy="179.4" r="0.83" fill="#3a3a3a" opacity="0.62"/><circle cx="105.9" cy="163.5" r="0.51" fill="#606060" opacity="0.74"/><circle cx="105.9" cy="154.6" r="0.58" fill="#505050" opacity="0.68"/><circle cx="128.6" cy="156.4" r="0.52" fill="#707070" opacity="0.48"/><circle cx="125.1" cy="181.9" r="0.79" fill="#606060" opacity="0.64"/><circle cx="151.5" cy="159.6" r="0.62" fill="#707070" opacity="0.46"/><circle cx="139.0" cy="164.9" r="0.78" fill="#3a3a3a" opacity="0.71"/><circle cx="108.6" cy="150.4" r="0.66" fill="#3a3a3a" opacity="0.73"/><circle cx="140.2" cy="180.6" r="0.46" fill="#707070" opacity="0.67"/><circle cx="112.9" cy="134.6" r="0.41" fill="#606060" opacity="0.62"/><circle cx="139.0" cy="143.4" r="0.52" fill="#606060" opacity="0.53"/><circle cx="131.3" cy="169.5" r="0.44" fill="#707070" opacity="0.36"/><circle cx="126.8" cy="154.3" r="0.45" fill="#3a3a3a" opacity="0.48"/><circle cx="107.8" cy="158.2" r="0.62" fill="#606060" opacity="0.45"/><circle cx="136.9" cy="188.5" r="0.49" fill="#505050" opacity="0.68"/><circle cx="107.4" cy="149.0" r="0.74" fill="#505050" opacity="0.38"/><circle cx="103.0" cy="181.1" r="0.58" fill="#606060" opacity="0.61"/><circle cx="124.4" cy="188.3" r="0.54" fill="#707070" opacity="0.37"/><circle cx="139.6" cy="184.4" r="0.85" fill="#707070" opacity="0.72"/><circle cx="134.1" cy="159.3" r="0.67" fill="#3a3a3a" opacity="0.58"/><circle cx="141.8" cy="158.9" r="0.71" fill="#606060" opacity="0.59"/><circle cx="150.7" cy="173.3" r="0.84" fill="#3a3a3a" opacity="0.51"/><circle cx="113.9" cy="145.6" r="0.79" fill="#707070" opacity="0.64"/><circle cx="94.7" cy="161.4" r="0.71" fill="#707070" opacity="0.67"/><circle cx="105.7" cy="160.3" r="0.58" fill="#505050" opacity="0.45"/><circle cx="121.5" cy="157.0" r="0.52" fill="#707070" opacity="0.62"/><circle cx="121.5" cy="141.8" r="0.51" fill="#707070" opacity="0.52"/><circle cx="129.0" cy="191.8" r="0.69" fill="#606060" opacity="0.37"/><circle cx="98.7" cy="163.7" r="0.80" fill="#3a3a3a" opacity="0.70"/><circle cx="125.8" cy="192.1" r="0.57" fill="#505050" opacity="0.63"/><circle cx="132.2" cy="174.3" r="0.79" fill="#505050" opacity="0.67"/><circle cx="116.6" cy="159.5" r="0.54" fill="#707070" opacity="0.77"/><circle cx="155.6" cy="159.1" r="0.47" fill="#3a3a3a" opacity="0.54"/><circle cx="108.5" cy="179.4" r="0.48" fill="#505050" opacity="0.39"/><circle cx="118.1" cy="176.5" r="0.78" fill="#606060" opacity="0.42"/><circle cx="126.8" cy="188.0" r="0.72" fill="#707070" opacity="0.42"/><circle cx="104.8" cy="166.6" r="0.68" fill="#606060" opacity="0.48"/><circle cx="112.8" cy="141.2" r="0.44" fill="#606060" opacity="0.79"/></g>
</g>
<g filter="url(#soft)">
<rect x="172.80" y="125.10" width="75.00" height="77.80" fill="#d4d8dd"/>
<circle cx="210.8" cy="163.6" r="37.6" fill="#d8cfcd" stroke="#bcb6b4" stroke-width="1"/>
<defs><radialGradient id="pa3" cx="0.5" cy="0.5" r="0.5"><stop offset="0" stop-color="#ead2c8"/><stop offset="0.8" stop-color="#e4c2b4"/><stop offset="1" stop-color="#d8b0a0"/></radialGradient></defs>
<circle cx="210.2" cy="163.2" r="34.5" fill="url(#pa3)"/>
<defs><radialGradient id="pa3b" cx="0.5" cy="0.5" r="0.5"><stop offset="0" stop-color="#dcd3d1"/><stop offset="0.9" stop-color="#dbd0ce"/><stop offset="1" stop-color="#cdbfbb"/></radialGradient></defs>
<circle cx="211.2" cy="159.8" r="29" fill="url(#pa3b)"/>
<g><circle cx="186.5" cy="150.8" r="0.81" fill="#b8a8a4" opacity="0.38"/><circle cx="241.3" cy="157.9" r="0.87" fill="#c4b0ac" opacity="0.40"/><circle cx="180.0" cy="172.8" r="0.72" fill="#c4b0ac" opacity="0.39"/><circle cx="179.1" cy="158.4" r="0.77" fill="#c4b0ac" opacity="0.56"/><circle cx="217.2" cy="146.0" r="0.56" fill="#b8a8a4" opacity="0.53"/><circle cx="216.0" cy="167.2" r="0.89" fill="#b8a8a4" opacity="0.39"/><circle cx="218.7" cy="161.5" r="0.58" fill="#b8a8a4" opacity="0.50"/><circle cx="191.6" cy="160.5" r="0.58" fill="#c4b0ac" opacity="0.50"/><circle cx="189.2" cy="179.6" r="0.84" fill="#b8a8a4" opacity="0.41"/><circle cx="219.5" cy="165.9" r="0.80" fill="#c4b0ac" opacity="0.30"/><circle cx="207.8" cy="176.7" r="0.50" fill="#c4b0ac" opacity="0.50"/><circle cx="186.2" cy="145.1" r="0.69" fill="#c4b0ac" opacity="0.44"/><circle cx="207.0" cy="162.3" r="0.59" fill="#c4b0ac" opacity="0.53"/><circle cx="233.8" cy="181.8" r="0.41" fill="#c4b0ac" opacity="0.46"/><circle cx="205.0" cy="131.6" r="0.82" fill="#c4b0ac" opacity="0.56"/><circle cx="207.2" cy="139.2" r="0.75" fill="#c4b0ac" opacity="0.57"/><circle cx="189.3" cy="167.0" r="0.65" fill="#c4b0ac" opacity="0.38"/><circle cx="188.3" cy="180.6" r="0.56" fill="#b8a8a4" opacity="0.59"/><circle cx="221.4" cy="170.7" r="0.76" fill="#c4b0ac" opacity="0.49"/><circle cx="221.7" cy="154.5" r="0.76" fill="#c4b0ac" opacity="0.41"/><circle cx="183.0" cy="174.0" r="0.86" fill="#b8a8a4" opacity="0.56"/><circle cx="225.6" cy="140.9" r="0.76" fill="#b8a8a4" opacity="0.37"/><circle cx="219.0" cy="132.9" r="0.44" fill="#b8a8a4" opacity="0.34"/><circle cx="218.3" cy="186.4" r="0.43" fill="#b8a8a4" opacity="0.50"/><circle cx="180.7" cy="147.3" r="0.74" fill="#b8a8a4" opacity="0.30"/><circle cx="183.2" cy="178.4" r="0.81" fill="#b8a8a4" opacity="0.34"/><circle cx="215.0" cy="137.2" r="0.50" fill="#b8a8a4" opacity="0.47"/><circle cx="205.2" cy="170.5" r="0.85" fill="#c4b0ac" opacity="0.45"/><circle cx="238.3" cy="156.3" r="0.82" fill="#b8a8a4" opacity="0.30"/><circle cx="192.4" cy="162.3" r="0.56" fill="#c4b0ac" opacity="0.46"/><circle cx="227.0" cy="173.8" r="0.78" fill="#b8a8a4" opacity="0.38"/><circle cx="180.5" cy="156.7" r="0.53" fill="#b8a8a4" opacity="0.35"/><circle cx="225.1" cy="179.4" r="0.63" fill="#b8a8a4" opacity="0.40"/><circle cx="215.3" cy="162.2" r="0.47" fill="#c4b0ac" opacity="0.36"/><circle cx="212.2" cy="187.8" r="0.81" fill="#c4b0ac" opacity="0.45"/><circle cx="181.2" cy="147.8" r="0.53" fill="#c4b0ac" opacity="0.53"/><circle cx="227.8" cy="189.5" r="0.57" fill="#b8a8a4" opacity="0.34"/><circle cx="190.4" cy="136.5" r="0.57" fill="#b8a8a4" opacity="0.54"/><circle cx="226.4" cy="140.3" r="0.46" fill="#c4b0ac" opacity="0.35"/><circle cx="188.9" cy="142.9" r="0.82" fill="#b8a8a4" opacity="0.45"/><circle cx="231.1" cy="140.7" r="0.83" fill="#c4b0ac" opacity="0.51"/><circle cx="206.3" cy="130.8" r="0.71" fill="#c4b0ac" opacity="0.37"/><circle cx="217.2" cy="141.1" r="0.60" fill="#c4b0ac" opacity="0.33"/><circle cx="218.6" cy="174.9" r="0.42" fill="#c4b0ac" opacity="0.35"/><circle cx="195.1" cy="189.7" r="0.82" fill="#b8a8a4" opacity="0.34"/><circle cx="220.2" cy="168.9" r="0.66" fill="#b8a8a4" opacity="0.57"/><circle cx="216.0" cy="142.0" r="0.45" fill="#c4b0ac" opacity="0.47"/><circle cx="191.5" cy="179.0" r="0.80" fill="#c4b0ac" opacity="0.60"/><circle cx="217.6" cy="191.6" r="0.49" fill="#c4b0ac" opacity="0.59"/><circle cx="205.6" cy="183.9" r="0.86" fill="#c4b0ac" opacity="0.37"/><circle cx="223.7" cy="163.2" r="0.64" fill="#b8a8a4" opacity="0.59"/><circle cx="238.0" cy="148.7" r="0.80" fill="#c4b0ac" opacity="0.36"/><circle cx="241.6" cy="169.9" r="0.53" fill="#c4b0ac" opacity="0.43"/><circle cx="203.5" cy="171.2" r="0.42" fill="#c4b0ac" opacity="0.39"/><circle cx="187.5" cy="138.4" r="0.77" fill="#c4b0ac" opacity="0.59"/><circle cx="217.6" cy="146.8" r="0.41" fill="#b8a8a4" opacity="0.53"/><circle cx="217.7" cy="131.6" r="0.42" fill="#b8a8a4" opacity="0.51"/><circle cx="220.9" cy="140.8" r="0.56" fill="#c4b0ac" opacity="0.33"/><circle cx="216.4" cy="143.5" r="0.88" fill="#c4b0ac" opacity="0.48"/><circle cx="208.2" cy="135.0" r="0.53" fill="#b8a8a4" opacity="0.60"/><circle cx="198.5" cy="184.9" r="0.76" fill="#b8a8a4" opacity="0.42"/><circle cx="207.6" cy="150.3" r="0.49" fill="#c4b0ac" opacity="0.54"/><circle cx="193.3" cy="185.0" r="0.54" fill="#b8a8a4" opacity="0.50"/><circle cx="200.6" cy="185.5" r="0.43" fill="#c4b0ac" opacity="0.46"/><circle cx="215.4" cy="173.7" r="0.65" fill="#b8a8a4" opacity="0.34"/><circle cx="223.4" cy="184.5" r="0.54" fill="#b8a8a4" opacity="0.35"/><circle cx="200.0" cy="141.3" r="0.46" fill="#b8a8a4" opacity="0.48"/><circle cx="223.5" cy="182.5" r="0.54" fill="#c4b0ac" opacity="0.48"/><circle cx="210.8" cy="142.6" r="0.87" fill="#b8a8a4" opacity="0.35"/><circle cx="216.8" cy="167.6" r="0.41" fill="#b8a8a4" opacity="0.35"/><circle cx="190.3" cy="155.6" r="0.71" fill="#b8a8a4" opacity="0.49"/><circle cx="203.8" cy="134.2" r="0.87" fill="#c4b0ac" opacity="0.49"/><circle cx="188.6" cy="182.2" r="0.58" fill="#b8a8a4" opacity="0.55"/><circle cx="235.3" cy="143.0" r="0.75" fill="#c4b0ac" opacity="0.45"/><circle cx="228.7" cy="159.3" r="0.82" fill="#b8a8a4" opacity="0.52"/><circle cx="213.6" cy="173.8" r="0.46" fill="#b8a8a4" opacity="0.47"/><circle cx="222.0" cy="159.8" r="0.45" fill="#c4b0ac" opacity="0.37"/><circle cx="211.4" cy="138.8" r="0.74" fill="#c4b0ac" opacity="0.41"/><circle cx="197.9" cy="182.0" r="0.43" fill="#b8a8a4" opacity="0.54"/><circle cx="202.1" cy="149.8" r="0.52" fill="#c4b0ac" opacity="0.60"/><circle cx="185.5" cy="177.5" r="0.76" fill="#b8a8a4" opacity="0.55"/><circle cx="234.2" cy="166.7" r="0.57" fill="#c4b0ac" opacity="0.55"/><circle cx="221.9" cy="151.8" r="0.46" fill="#b8a8a4" opacity="0.40"/><circle cx="232.5" cy="178.3" r="0.55" fill="#b8a8a4" opacity="0.38"/><circle cx="190.5" cy="153.0" r="0.78" fill="#c4b0ac" opacity="0.43"/><circle cx="214.9" cy="139.3" r="0.44" fill="#c4b0ac" opacity="0.42"/><circle cx="190.0" cy="180.9" r="0.81" fill="#b8a8a4" opacity="0.58"/><circle cx="223.6" cy="148.2" r="0.59" fill="#b8a8a4" opacity="0.49"/><circle cx="202.9" cy="180.5" r="0.78" fill="#c4b0ac" opacity="0.57"/><circle cx="192.8" cy="150.6" r="0.66" fill="#b8a8a4" opacity="0.37"/></g>
<g><circle cx="221.2" cy="162.9" r="0.67" fill="#4a3a3a" opacity="0.76"/><circle cx="233.2" cy="154.6" r="0.84" fill="#3a2c2c" opacity="0.51"/><circle cx="218.1" cy="163.7" r="0.58" fill="#3a2c2c" opacity="0.78"/><circle cx="182.1" cy="179.2" r="0.50" fill="#5a4444" opacity="0.46"/><circle cx="202.1" cy="174.6" r="0.67" fill="#4a3a3a" opacity="0.72"/><circle cx="214.0" cy="176.9" r="0.77" fill="#4a3a3a" opacity="0.70"/><circle cx="220.6" cy="145.3" r="0.56" fill="#5a4444" opacity="0.83"/><circle cx="238.0" cy="167.4" r="0.93" fill="#4a3a3a" opacity="0.74"/><circle cx="215.9" cy="182.9" r="0.65" fill="#4a3a3a" opacity="0.60"/><circle cx="193.4" cy="163.9" r="0.61" fill="#5a4444" opacity="0.71"/><circle cx="192.0" cy="138.0" r="0.98" fill="#4a3a3a" opacity="0.89"/><circle cx="214.7" cy="144.3" r="0.55" fill="#3a2c2c" opacity="0.73"/><circle cx="219.6" cy="146.8" r="0.55" fill="#3a2c2c" opacity="0.46"/><circle cx="187.4" cy="184.9" r="0.82" fill="#5a4444" opacity="0.58"/><circle cx="190.8" cy="135.5" r="0.56" fill="#5a4444" opacity="0.65"/><circle cx="182.6" cy="172.0" r="0.76" fill="#4a3a3a" opacity="0.50"/><circle cx="228.6" cy="143.2" r="0.98" fill="#4a3a3a" opacity="0.54"/><circle cx="203.3" cy="132.3" r="0.71" fill="#3a2c2c" opacity="0.67"/><circle cx="206.7" cy="181.8" r="0.79" fill="#4a3a3a" opacity="0.74"/><circle cx="224.2" cy="143.8" r="0.89" fill="#5a4444" opacity="0.72"/><circle cx="238.7" cy="157.1" r="0.59" fill="#5a4444" opacity="0.79"/><circle cx="208.2" cy="164.8" r="0.66" fill="#4a3a3a" opacity="0.58"/><circle cx="222.2" cy="161.5" r="0.76" fill="#3a2c2c" opacity="0.73"/><circle cx="232.4" cy="142.9" r="0.97" fill="#3a2c2c" opacity="0.84"/><circle cx="219.2" cy="182.4" r="0.83" fill="#3a2c2c" opacity="0.69"/><circle cx="190.8" cy="175.9" r="0.84" fill="#3a2c2c" opacity="0.66"/><circle cx="218.1" cy="144.9" r="0.65" fill="#5a4444" opacity="0.69"/><circle cx="209.2" cy="130.0" r="0.83" fill="#4a3a3a" opacity="0.71"/><circle cx="236.2" cy="169.0" r="0.85" fill="#4a3a3a" opacity="0.54"/><circle cx="196.8" cy="174.5" r="0.68" fill="#3a2c2c" opacity="0.77"/><circle cx="183.2" cy="145.5" r="0.60" fill="#4a3a3a" opacity="0.87"/><circle cx="235.5" cy="167.3" r="0.94" fill="#4a3a3a" opacity="0.57"/><circle cx="184.8" cy="173.0" r="0.57" fill="#5a4444" opacity="0.47"/><circle cx="199.2" cy="171.8" r="0.57" fill="#3a2c2c" opacity="0.61"/><circle cx="220.9" cy="159.2" r="0.57" fill="#3a2c2c" opacity="0.89"/><circle cx="199.4" cy="132.8" r="0.70" fill="#3a2c2c" opacity="0.74"/><circle cx="212.7" cy="167.5" r="0.72" fill="#5a4444" opacity="0.58"/><circle cx="226.3" cy="133.5" r="0.60" fill="#5a4444" opacity="0.57"/><circle cx="200.4" cy="192.0" r="0.77" fill="#4a3a3a" opacity="0.63"/><circle cx="211.1" cy="174.4" r="0.80" fill="#4a3a3a" opacity="0.80"/><circle cx="196.9" cy="137.6" r="0.46" fill="#5a4444" opacity="0.86"/><circle cx="235.4" cy="152.2" r="0.74" fill="#5a4444" opacity="0.84"/><circle cx="215.6" cy="141.9" r="0.57" fill="#5a4444" opacity="0.85"/><circle cx="234.0" cy="169.4" r="0.98" fill="#5a4444" opacity="0.56"/><circle cx="202.6" cy="144.8" r="0.99" fill="#4a3a3a" opacity="0.81"/><circle cx="197.0" cy="186.9" r="0.87" fill="#4a3a3a" opacity="0.64"/><circle cx="199.5" cy="189.5" r="0.96" fill="#5a4444" opacity="0.55"/><circle cx="201.4" cy="159.4" r="0.72" fill="#5a4444" opacity="0.66"/><circle cx="187.6" cy="164.9" r="0.83" fill="#3a2c2c" opacity="0.86"/><circle cx="200.8" cy="149.1" r="1.00" fill="#5a4444" opacity="0.66"/><circle cx="233.5" cy="170.7" r="0.95" fill="#5a4444" opacity="0.60"/><circle cx="214.8" cy="176.8" r="0.48" fill="#5a4444" opacity="0.84"/><circle cx="237.6" cy="168.8" r="0.70" fill="#3a2c2c" opacity="0.63"/><circle cx="217.6" cy="130.6" r="0.73" fill="#4a3a3a" opacity="0.59"/><circle cx="182.8" cy="151.9" r="0.70" fill="#3a2c2c" opacity="0.51"/><circle cx="200.5" cy="188.0" r="0.56" fill="#5a4444" opacity="0.74"/><circle cx="212.8" cy="181.1" r="0.98" fill="#5a4444" opacity="0.64"/><circle cx="223.1" cy="140.0" r="0.90" fill="#4a3a3a" opacity="0.64"/><circle cx="216.3" cy="176.5" r="0.59" fill="#4a3a3a" opacity="0.86"/><circle cx="232.9" cy="182.3" r="0.84" fill="#3a2c2c" opacity="0.59"/></g>
</g>
<g filter="url(#soft)">
<rect x="287.40" y="126.10" width="78.00" height="77.40" fill="#dbe0e7"/>
<circle cx="326.3" cy="164.6" r="38.3" fill="#dcdadc" stroke="#c4c2c4" stroke-width="1"/>
<defs><radialGradient id="pb1" cx="0.5" cy="0.5" r="0.5"><stop offset="0" stop-color="#e6e3e4"/><stop offset="0.88" stop-color="#e2dcdc"/><stop offset="0.96" stop-color="#c8aaa4"/><stop offset="1" stop-color="#b08e88"/></radialGradient></defs>
<circle cx="325.5" cy="164.2" r="35.2" fill="url(#pb1)"/>
<g><circle cx="352.0" cy="170.6" r="0.47" fill="#b8acac" opacity="0.44"/><circle cx="303.0" cy="170.8" r="0.41" fill="#c0b4b4" opacity="0.43"/><circle cx="302.5" cy="141.4" r="0.84" fill="#c0b4b4" opacity="0.59"/><circle cx="338.9" cy="191.2" r="0.81" fill="#b8acac" opacity="0.41"/><circle cx="341.4" cy="189.5" r="0.46" fill="#c0b4b4" opacity="0.42"/><circle cx="307.3" cy="154.8" r="0.42" fill="#b8acac" opacity="0.32"/><circle cx="334.8" cy="148.8" r="0.84" fill="#b8acac" opacity="0.46"/><circle cx="355.0" cy="161.8" r="0.73" fill="#b8acac" opacity="0.49"/><circle cx="346.9" cy="178.5" r="0.79" fill="#c0b4b4" opacity="0.57"/><circle cx="312.3" cy="187.6" r="0.62" fill="#b8acac" opacity="0.34"/><circle cx="326.7" cy="156.8" r="0.70" fill="#b8acac" opacity="0.41"/><circle cx="321.2" cy="156.3" r="0.90" fill="#c0b4b4" opacity="0.50"/><circle cx="296.2" cy="164.9" r="0.88" fill="#b8acac" opacity="0.51"/><circle cx="304.3" cy="167.6" r="0.79" fill="#b8acac" opacity="0.41"/><circle cx="345.1" cy="143.9" r="0.69" fill="#c0b4b4" opacity="0.39"/><circle cx="319.3" cy="166.3" r="0.40" fill="#b8acac" opacity="0.57"/><circle cx="328.3" cy="167.1" r="0.79" fill="#c0b4b4" opacity="0.55"/><circle cx="343.0" cy="180.3" r="0.53" fill="#c0b4b4" opacity="0.53"/><circle cx="342.3" cy="138.6" r="0.59" fill="#b8acac" opacity="0.51"/><circle cx="319.2" cy="134.2" r="0.74" fill="#c0b4b4" opacity="0.36"/><circle cx="323.7" cy="189.2" r="0.86" fill="#c0b4b4" opacity="0.40"/><circle cx="348.2" cy="171.7" r="0.79" fill="#b8acac" opacity="0.36"/><circle cx="309.7" cy="135.7" r="0.51" fill="#b8acac" opacity="0.36"/><circle cx="355.0" cy="160.3" r="0.59" fill="#b8acac" opacity="0.32"/><circle cx="329.5" cy="166.9" r="0.83" fill="#b8acac" opacity="0.55"/><circle cx="310.4" cy="155.9" r="0.46" fill="#b8acac" opacity="0.53"/><circle cx="325.4" cy="174.9" r="0.51" fill="#c0b4b4" opacity="0.47"/><circle cx="331.8" cy="184.5" r="0.41" fill="#c0b4b4" opacity="0.41"/><circle cx="316.0" cy="186.4" r="0.67" fill="#b8acac" opacity="0.35"/><circle cx="327.4" cy="170.6" r="0.53" fill="#c0b4b4" opacity="0.51"/><circle cx="340.6" cy="138.9" r="0.64" fill="#c0b4b4" opacity="0.40"/><circle cx="330.0" cy="191.8" r="0.64" fill="#c0b4b4" opacity="0.49"/><circle cx="305.4" cy="154.7" r="0.76" fill="#c0b4b4" opacity="0.59"/><circle cx="349.7" cy="149.0" r="0.67" fill="#c0b4b4" opacity="0.55"/><circle cx="321.4" cy="140.6" r="0.69" fill="#b8acac" opacity="0.36"/><circle cx="321.2" cy="160.8" r="0.45" fill="#b8acac" opacity="0.56"/><circle cx="351.0" cy="146.4" r="0.52" fill="#b8acac" opacity="0.60"/><circle cx="324.4" cy="187.0" r="0.63" fill="#c0b4b4" opacity="0.39"/><circle cx="298.7" cy="171.1" r="0.65" fill="#c0b4b4" opacity="0.33"/><circle cx="312.8" cy="179.5" r="0.79" fill="#c0b4b4" opacity="0.51"/><circle cx="311.3" cy="190.8" r="0.51" fill="#b8acac" opacity="0.54"/><circle cx="302.1" cy="187.4" r="0.52" fill="#b8acac" opacity="0.48"/><circle cx="342.5" cy="158.2" r="0.47" fill="#b8acac" opacity="0.35"/><circle cx="339.2" cy="192.8" r="0.69" fill="#b8acac" opacity="0.51"/><circle cx="323.7" cy="187.3" r="0.86" fill="#c0b4b4" opacity="0.36"/><circle cx="330.7" cy="154.7" r="0.77" fill="#b8acac" opacity="0.41"/><circle cx="334.5" cy="148.1" r="0.78" fill="#b8acac" opacity="0.38"/><circle cx="303.9" cy="153.8" r="0.43" fill="#c0b4b4" opacity="0.47"/><circle cx="302.8" cy="154.8" r="0.88" fill="#c0b4b4" opacity="0.30"/><circle cx="316.2" cy="165.1" r="0.45" fill="#c0b4b4" opacity="0.52"/><circle cx="316.7" cy="138.2" r="0.67" fill="#b8acac" opacity="0.44"/><circle cx="319.3" cy="171.3" r="0.57" fill="#c0b4b4" opacity="0.31"/><circle cx="335.7" cy="188.0" r="0.50" fill="#c0b4b4" opacity="0.56"/><circle cx="321.9" cy="164.8" r="0.75" fill="#b8acac" opacity="0.37"/><circle cx="348.6" cy="152.7" r="0.52" fill="#b8acac" opacity="0.53"/><circle cx="333.5" cy="157.6" r="0.41" fill="#b8acac" opacity="0.48"/><circle cx="324.1" cy="184.8" r="0.49" fill="#c0b4b4" opacity="0.35"/><circle cx="300.4" cy="165.4" r="0.87" fill="#c0b4b4" opacity="0.51"/><circle cx="313.8" cy="144.8" r="0.70" fill="#c0b4b4" opacity="0.36"/><circle cx="304.7" cy="140.2" r="0.81" fill="#b8acac" opacity="0.46"/><circle cx="296.1" cy="175.5" r="0.49" fill="#b8acac" opacity="0.56"/><circle cx="304.3" cy="171.8" r="0.46" fill="#c0b4b4" opacity="0.49"/><circle cx="351.5" cy="158.7" r="0.81" fill="#c0b4b4" opacity="0.42"/><circle cx="325.6" cy="160.5" r="0.56" fill="#b8acac" opacity="0.33"/><circle cx="347.0" cy="186.9" r="0.70" fill="#c0b4b4" opacity="0.50"/><circle cx="333.4" cy="166.0" r="0.77" fill="#c0b4b4" opacity="0.33"/><circle cx="337.4" cy="133.5" r="0.58" fill="#c0b4b4" opacity="0.57"/><circle cx="306.3" cy="183.1" r="0.67" fill="#b8acac" opacity="0.43"/><circle cx="328.6" cy="164.6" r="0.41" fill="#c0b4b4" opacity="0.38"/><circle cx="347.2" cy="167.6" r="0.42" fill="#c0b4b4" opacity="0.58"/><circle cx="319.7" cy="180.2" r="0.56" fill="#b8acac" opacity="0.41"/><circle cx="304.8" cy="158.4" r="0.58" fill="#b8acac" opacity="0.43"/><circle cx="301.9" cy="164.6" r="0.49" fill="#c0b4b4" opacity="0.33"/><circle cx="312.8" cy="169.6" r="0.74" fill="#c0b4b4" opacity="0.52"/><circle cx="304.3" cy="164.7" r="0.88" fill="#b8acac" opacity="0.40"/><circle cx="332.8" cy="139.2" r="0.66" fill="#c0b4b4" opacity="0.43"/><circle cx="322.1" cy="135.1" r="0.73" fill="#c0b4b4" opacity="0.55"/><circle cx="329.2" cy="159.2" r="0.72" fill="#c0b4b4" opacity="0.30"/><circle cx="332.5" cy="182.2" r="0.71" fill="#c0b4b4" opacity="0.40"/><circle cx="347.3" cy="151.9" r="0.54" fill="#c0b4b4" opacity="0.49"/><circle cx="316.1" cy="190.5" r="0.40" fill="#b8acac" opacity="0.60"/><circle cx="351.1" cy="174.3" r="0.47" fill="#c0b4b4" opacity="0.60"/><circle cx="343.8" cy="159.3" r="0.47" fill="#b8acac" opacity="0.37"/><circle cx="323.9" cy="177.6" r="0.62" fill="#b8acac" opacity="0.45"/><circle cx="334.5" cy="159.9" r="0.55" fill="#b8acac" opacity="0.51"/><circle cx="299.3" cy="159.6" r="0.78" fill="#c0b4b4" opacity="0.32"/><circle cx="311.6" cy="137.4" r="0.73" fill="#b8acac" opacity="0.44"/><circle cx="325.9" cy="151.1" r="0.64" fill="#c0b4b4" opacity="0.39"/><circle cx="337.2" cy="168.8" r="0.90" fill="#c0b4b4" opacity="0.48"/><circle cx="312.6" cy="193.3" r="0.69" fill="#b8acac" opacity="0.35"/><circle cx="350.3" cy="145.2" r="0.57" fill="#c0b4b4" opacity="0.52"/><circle cx="324.2" cy="160.4" r="0.57" fill="#b8acac" opacity="0.39"/><circle cx="326.4" cy="185.6" r="0.69" fill="#c0b4b4" opacity="0.41"/><circle cx="327.4" cy="180.0" r="0.52" fill="#c0b4b4" opacity="0.57"/><circle cx="320.7" cy="174.1" r="0.64" fill="#c0b4b4" opacity="0.40"/><circle cx="342.5" cy="168.5" r="0.56" fill="#c0b4b4" opacity="0.38"/><circle cx="319.7" cy="160.7" r="0.69" fill="#b8acac" opacity="0.57"/><circle cx="345.7" cy="168.2" r="0.46" fill="#b8acac" opacity="0.50"/><circle cx="350.6" cy="151.5" r="0.68" fill="#b8acac" opacity="0.54"/><circle cx="341.7" cy="162.3" r="0.80" fill="#c0b4b4" opacity="0.54"/><circle cx="338.2" cy="172.9" r="0.76" fill="#c0b4b4" opacity="0.54"/><circle cx="303.7" cy="142.8" r="0.74" fill="#c0b4b4" opacity="0.56"/><circle cx="307.6" cy="137.0" r="0.45" fill="#b8acac" opacity="0.59"/><circle cx="332.2" cy="145.7" r="0.61" fill="#b8acac" opacity="0.47"/><circle cx="326.4" cy="137.5" r="0.85" fill="#c0b4b4" opacity="0.36"/><circle cx="319.4" cy="184.8" r="0.80" fill="#b8acac" opacity="0.54"/><circle cx="350.5" cy="144.6" r="0.48" fill="#b8acac" opacity="0.44"/><circle cx="305.5" cy="157.0" r="0.49" fill="#c0b4b4" opacity="0.42"/><circle cx="314.5" cy="160.8" r="0.79" fill="#c0b4b4" opacity="0.55"/><circle cx="353.1" cy="165.3" r="0.54" fill="#c0b4b4" opacity="0.53"/><circle cx="321.6" cy="193.3" r="0.57" fill="#c0b4b4" opacity="0.38"/><circle cx="321.6" cy="133.5" r="0.69" fill="#c0b4b4" opacity="0.52"/><circle cx="351.8" cy="183.6" r="0.54" fill="#b8acac" opacity="0.57"/><circle cx="305.2" cy="184.7" r="0.88" fill="#b8acac" opacity="0.45"/><circle cx="338.5" cy="163.4" r="0.41" fill="#b8acac" opacity="0.43"/><circle cx="296.6" cy="150.9" r="0.74" fill="#c0b4b4" opacity="0.45"/><circle cx="341.0" cy="150.4" r="0.65" fill="#c0b4b4" opacity="0.34"/><circle cx="315.5" cy="162.5" r="0.52" fill="#b8acac" opacity="0.38"/><circle cx="338.5" cy="159.8" r="0.86" fill="#c0b4b4" opacity="0.38"/><circle cx="323.9" cy="167.4" r="0.59" fill="#b8acac" opacity="0.41"/></g>
<g><circle cx="313.7" cy="174.8" r="0.55" fill="#2a2020" opacity="0.91"/><circle cx="306.0" cy="157.3" r="0.89" fill="#4a3434" opacity="0.76"/><circle cx="309.4" cy="138.3" r="0.71" fill="#4a3434" opacity="0.57"/><circle cx="343.8" cy="161.7" r="0.60" fill="#3a2a2a" opacity="0.81"/><circle cx="343.8" cy="181.3" r="0.71" fill="#4a3434" opacity="0.63"/><circle cx="343.1" cy="172.7" r="0.74" fill="#3a2a2a" opacity="0.75"/><circle cx="347.8" cy="186.1" r="0.86" fill="#3a2a2a" opacity="0.94"/><circle cx="323.7" cy="179.6" r="0.47" fill="#5a4848" opacity="0.76"/><circle cx="348.4" cy="144.3" r="0.63" fill="#3a2a2a" opacity="0.57"/><circle cx="302.9" cy="178.8" r="0.75" fill="#3a2a2a" opacity="0.68"/><circle cx="333.2" cy="168.7" r="1.02" fill="#2a2020" opacity="0.68"/><circle cx="295.3" cy="156.3" r="0.84" fill="#4a3434" opacity="0.64"/><circle cx="335.1" cy="137.9" r="0.88" fill="#3a2a2a" opacity="0.81"/><circle cx="352.9" cy="161.7" r="0.99" fill="#3a2a2a" opacity="0.69"/><circle cx="308.8" cy="150.5" r="0.96" fill="#4a3434" opacity="0.93"/><circle cx="329.0" cy="183.5" r="0.73" fill="#5a4848" opacity="0.82"/><circle cx="348.7" cy="177.4" r="0.78" fill="#4a3434" opacity="0.92"/><circle cx="320.0" cy="194.8" r="0.65" fill="#5a4848" opacity="0.92"/><circle cx="329.5" cy="146.6" r="0.71" fill="#4a3434" opacity="0.54"/><circle cx="328.8" cy="179.3" r="0.73" fill="#4a3434" opacity="0.61"/><circle cx="300.4" cy="156.3" r="0.75" fill="#5a4848" opacity="0.55"/><circle cx="320.2" cy="153.8" r="1.05" fill="#4a3434" opacity="0.77"/><circle cx="303.3" cy="156.5" r="1.03" fill="#2a2020" opacity="0.90"/><circle cx="350.2" cy="168.7" r="1.02" fill="#4a3434" opacity="0.79"/><circle cx="297.7" cy="181.2" r="1.03" fill="#2a2020" opacity="0.52"/><circle cx="330.0" cy="184.3" r="1.01" fill="#2a2020" opacity="0.93"/><circle cx="343.0" cy="188.9" r="0.82" fill="#2a2020" opacity="0.87"/><circle cx="309.9" cy="149.3" r="0.69" fill="#4a3434" opacity="0.72"/><circle cx="343.8" cy="177.0" r="0.71" fill="#5a4848" opacity="0.72"/><circle cx="321.1" cy="179.8" r="0.73" fill="#5a4848" opacity="0.76"/><circle cx="353.6" cy="174.0" r="0.88" fill="#3a2a2a" opacity="0.82"/><circle cx="326.5" cy="137.8" r="0.70" fill="#2a2020" opacity="0.72"/><circle cx="306.4" cy="153.6" r="0.46" fill="#5a4848" opacity="0.57"/><circle cx="341.2" cy="185.5" r="0.77" fill="#2a2020" opacity="0.51"/><circle cx="307.6" cy="146.9" r="0.77" fill="#4a3434" opacity="0.61"/><circle cx="343.5" cy="169.2" r="0.76" fill="#3a2a2a" opacity="0.58"/><circle cx="299.8" cy="152.4" r="0.56" fill="#5a4848" opacity="0.58"/><circle cx="348.2" cy="178.0" r="1.01" fill="#3a2a2a" opacity="0.89"/><circle cx="322.9" cy="153.5" r="0.68" fill="#2a2020" opacity="0.53"/><circle cx="311.5" cy="138.9" r="0.67" fill="#3a2a2a" opacity="0.86"/><circle cx="343.8" cy="173.0" r="0.55" fill="#2a2020" opacity="0.71"/><circle cx="330.6" cy="172.3" r="0.96" fill="#2a2020" opacity="0.64"/><circle cx="323.5" cy="167.7" r="0.48" fill="#3a2a2a" opacity="0.69"/><circle cx="350.4" cy="144.9" r="1.03" fill="#2a2020" opacity="0.62"/><circle cx="317.6" cy="175.2" r="0.99" fill="#5a4848" opacity="0.71"/><circle cx="308.8" cy="165.7" r="0.86" fill="#2a2020" opacity="0.74"/><circle cx="313.4" cy="158.2" r="1.01" fill="#3a2a2a" opacity="0.86"/><circle cx="325.8" cy="140.2" r="0.57" fill="#2a2020" opacity="0.80"/><circle cx="318.7" cy="195.1" r="0.63" fill="#3a2a2a" opacity="0.63"/><circle cx="343.9" cy="136.8" r="0.63" fill="#3a2a2a" opacity="0.68"/><circle cx="302.7" cy="186.9" r="0.67" fill="#5a4848" opacity="0.85"/><circle cx="311.7" cy="171.5" r="0.95" fill="#2a2020" opacity="0.53"/><circle cx="348.3" cy="167.1" r="0.86" fill="#5a4848" opacity="0.73"/><circle cx="341.5" cy="143.7" r="1.04" fill="#5a4848" opacity="0.83"/><circle cx="316.2" cy="166.5" r="0.99" fill="#3a2a2a" opacity="0.90"/><circle cx="337.7" cy="134.2" r="1.03" fill="#3a2a2a" opacity="0.85"/><circle cx="348.6" cy="178.2" r="0.61" fill="#5a4848" opacity="0.94"/><circle cx="324.5" cy="170.0" r="0.82" fill="#3a2a2a" opacity="0.78"/><circle cx="351.9" cy="150.7" r="0.92" fill="#5a4848" opacity="0.92"/><circle cx="308.3" cy="179.0" r="0.67" fill="#3a2a2a" opacity="0.93"/><circle cx="344.4" cy="149.8" r="0.76" fill="#2a2020" opacity="0.81"/><circle cx="333.9" cy="194.9" r="0.83" fill="#5a4848" opacity="0.86"/><circle cx="315.5" cy="164.5" r="0.76" fill="#3a2a2a" opacity="0.57"/><circle cx="351.9" cy="180.4" r="1.01" fill="#4a3434" opacity="0.65"/><circle cx="338.5" cy="160.2" r="1.04" fill="#2a2020" opacity="0.57"/><circle cx="300.0" cy="149.4" r="0.50" fill="#3a2a2a" opacity="0.53"/><circle cx="330.6" cy="138.0" r="0.50" fill="#2a2020" opacity="0.94"/><circle cx="325.7" cy="173.1" r="0.98" fill="#4a3434" opacity="0.54"/><circle cx="325.0" cy="149.8" r="0.72" fill="#2a2020" opacity="0.74"/><circle cx="307.7" cy="166.5" r="0.66" fill="#5a4848" opacity="0.88"/><circle cx="311.9" cy="182.5" r="0.66" fill="#2a2020" opacity="0.67"/><circle cx="331.4" cy="172.2" r="0.72" fill="#5a4848" opacity="0.63"/><circle cx="312.8" cy="167.4" r="0.74" fill="#2a2020" opacity="0.92"/><circle cx="327.7" cy="183.3" r="0.52" fill="#2a2020" opacity="0.63"/><circle cx="345.5" cy="138.3" r="0.58" fill="#5a4848" opacity="0.50"/><circle cx="325.1" cy="137.0" r="0.81" fill="#5a4848" opacity="0.92"/><circle cx="326.6" cy="174.3" r="0.71" fill="#4a3434" opacity="0.68"/><circle cx="315.7" cy="160.8" r="0.92" fill="#4a3434" opacity="0.77"/><circle cx="300.0" cy="180.4" r="1.03" fill="#5a4848" opacity="0.68"/><circle cx="339.2" cy="152.9" r="0.69" fill="#2a2020" opacity="0.70"/><circle cx="331.2" cy="182.5" r="0.96" fill="#4a3434" opacity="0.77"/><circle cx="343.7" cy="168.0" r="0.95" fill="#3a2a2a" opacity="0.68"/><circle cx="330.2" cy="158.6" r="0.81" fill="#2a2020" opacity="0.86"/><circle cx="350.3" cy="153.8" r="0.72" fill="#3a2a2a" opacity="0.70"/><circle cx="327.0" cy="186.8" r="0.91" fill="#4a3434" opacity="0.54"/><circle cx="322.5" cy="171.4" r="0.66" fill="#3a2a2a" opacity="0.88"/><circle cx="298.0" cy="145.7" r="1.03" fill="#2a2020" opacity="0.87"/><circle cx="314.4" cy="175.4" r="0.49" fill="#3a2a2a" opacity="0.76"/><circle cx="349.6" cy="165.5" r="0.46" fill="#5a4848" opacity="0.54"/><circle cx="342.1" cy="181.2" r="0.81" fill="#4a3434" opacity="0.91"/><circle cx="304.6" cy="165.1" r="0.77" fill="#4a3434" opacity="0.55"/><circle cx="311.2" cy="167.0" r="0.58" fill="#3a2a2a" opacity="0.88"/><circle cx="317.8" cy="132.8" r="1.04" fill="#4a3434" opacity="0.84"/><circle cx="334.9" cy="166.9" r="1.04" fill="#3a2a2a" opacity="0.88"/><circle cx="339.1" cy="177.1" r="0.78" fill="#2a2020" opacity="0.62"/><circle cx="338.7" cy="168.8" r="0.62" fill="#5a4848" opacity="0.70"/><circle cx="345.8" cy="156.0" r="0.59" fill="#3a2a2a" opacity="0.70"/><circle cx="345.2" cy="173.0" r="0.84" fill="#5a4848" opacity="0.88"/><circle cx="316.6" cy="178.5" r="0.46" fill="#2a2020" opacity="0.91"/><circle cx="353.4" cy="165.6" r="0.81" fill="#4a3434" opacity="0.84"/><circle cx="351.0" cy="151.1" r="0.56" fill="#4a3434" opacity="0.70"/><circle cx="302.4" cy="163.3" r="0.49" fill="#2a2020" opacity="0.53"/><circle cx="340.4" cy="185.7" r="0.72" fill="#2a2020" opacity="0.55"/><circle cx="319.8" cy="187.2" r="0.95" fill="#4a3434" opacity="0.51"/><circle cx="325.7" cy="131.6" r="0.65" fill="#2a2020" opacity="0.79"/><circle cx="351.9" cy="151.9" r="0.81" fill="#3a2a2a" opacity="0.89"/><circle cx="343.7" cy="179.0" r="0.86" fill="#2a2020" opacity="0.91"/><circle cx="330.6" cy="133.1" r="0.80" fill="#3a2a2a" opacity="0.74"/><circle cx="342.0" cy="162.9" r="0.86" fill="#2a2020" opacity="0.83"/><circle cx="336.1" cy="191.4" r="0.56" fill="#3a2a2a" opacity="0.95"/><circle cx="352.3" cy="163.1" r="0.59" fill="#4a3434" opacity="0.86"/><circle cx="340.5" cy="138.8" r="0.68" fill="#2a2020" opacity="0.84"/><circle cx="332.0" cy="150.2" r="1.04" fill="#5a4848" opacity="0.76"/><circle cx="296.3" cy="160.9" r="0.81" fill="#5a4848" opacity="0.63"/><circle cx="297.4" cy="160.3" r="0.46" fill="#3a2a2a" opacity="0.67"/><circle cx="331.0" cy="140.7" r="0.88" fill="#5a4848" opacity="0.79"/><circle cx="300.3" cy="159.2" r="0.94" fill="#5a4848" opacity="0.54"/><circle cx="332.5" cy="163.1" r="0.84" fill="#4a3434" opacity="0.63"/><circle cx="341.8" cy="163.9" r="0.57" fill="#4a3434" opacity="0.79"/><circle cx="339.3" cy="158.2" r="0.85" fill="#3a2a2a" opacity="0.71"/><circle cx="322.8" cy="195.2" r="1.00" fill="#4a3434" opacity="0.60"/><circle cx="308.3" cy="173.5" r="0.56" fill="#4a3434" opacity="0.67"/><circle cx="316.5" cy="134.7" r="1.02" fill="#4a3434" opacity="0.92"/><circle cx="311.1" cy="155.5" r="0.69" fill="#3a2a2a" opacity="0.67"/><circle cx="316.5" cy="135.2" r="0.84" fill="#3a2a2a" opacity="0.93"/><circle cx="334.6" cy="164.0" r="0.47" fill="#4a3434" opacity="0.90"/><circle cx="332.5" cy="146.0" r="0.84" fill="#4a3434" opacity="0.90"/><circle cx="334.9" cy="134.8" r="0.96" fill="#5a4848" opacity="0.75"/><circle cx="319.2" cy="143.4" r="0.63" fill="#3a2a2a" opacity="0.69"/><circle cx="328.7" cy="185.4" r="0.68" fill="#5a4848" opacity="0.54"/><circle cx="330.2" cy="194.5" r="0.79" fill="#5a4848" opacity="0.90"/><circle cx="302.4" cy="169.9" r="0.82" fill="#4a3434" opacity="0.53"/><circle cx="305.3" cy="148.3" r="1.01" fill="#3a2a2a" opacity="0.83"/><circle cx="320.6" cy="148.6" r="0.65" fill="#5a4848" opacity="0.70"/><circle cx="344.8" cy="162.1" r="0.95" fill="#4a3434" opacity="0.78"/><circle cx="304.9" cy="170.3" r="0.77" fill="#2a2020" opacity="0.60"/><circle cx="305.4" cy="183.4" r="0.93" fill="#5a4848" opacity="0.61"/><circle cx="319.5" cy="137.6" r="0.88" fill="#3a2a2a" opacity="0.83"/><circle cx="331.6" cy="150.6" r="0.58" fill="#5a4848" opacity="0.68"/><circle cx="339.4" cy="192.6" r="0.56" fill="#4a3434" opacity="0.86"/><circle cx="340.5" cy="177.5" r="0.58" fill="#4a3434" opacity="0.71"/><circle cx="334.7" cy="136.8" r="0.47" fill="#2a2020" opacity="0.63"/><circle cx="326.4" cy="150.3" r="0.54" fill="#3a2a2a" opacity="0.72"/><circle cx="329.0" cy="185.7" r="0.68" fill="#5a4848" opacity="0.90"/><circle cx="311.3" cy="174.2" r="0.95" fill="#3a2a2a" opacity="0.72"/><circle cx="319.3" cy="131.9" r="0.76" fill="#3a2a2a" opacity="0.71"/><circle cx="344.7" cy="174.1" r="0.58" fill="#5a4848" opacity="0.77"/><circle cx="328.7" cy="162.7" r="0.99" fill="#5a4848" opacity="0.50"/><circle cx="341.0" cy="157.2" r="0.62" fill="#3a2a2a" opacity="0.58"/><circle cx="309.1" cy="153.9" r="0.51" fill="#4a3434" opacity="0.85"/><circle cx="316.6" cy="180.3" r="0.77" fill="#2a2020" opacity="0.67"/><circle cx="302.5" cy="166.8" r="0.68" fill="#2a2020" opacity="0.61"/><circle cx="339.5" cy="158.8" r="0.68" fill="#2a2020" opacity="0.82"/><circle cx="311.0" cy="145.8" r="0.88" fill="#3a2a2a" opacity="0.54"/><circle cx="319.0" cy="132.7" r="0.49" fill="#3a2a2a" opacity="0.89"/><circle cx="326.6" cy="164.2" r="0.85" fill="#4a3434" opacity="0.52"/><circle cx="327.0" cy="159.6" r="0.76" fill="#2a2020" opacity="0.93"/><circle cx="300.5" cy="173.5" r="0.93" fill="#5a4848" opacity="0.81"/><circle cx="318.0" cy="172.6" r="0.98" fill="#4a3434" opacity="0.55"/><circle cx="315.5" cy="179.5" r="0.73" fill="#4a3434" opacity="0.94"/></g>
</g>
<g filter="url(#soft)">
<rect x="383.40" y="126.30" width="77.20" height="77.10" fill="#dde2ea"/>
<circle cx="421.8" cy="165.2" r="38.6" fill="#e2e0e2" stroke="#cac8ca" stroke-width="1"/>
<defs><radialGradient id="pb2" cx="0.5" cy="0.5" r="0.5"><stop offset="0" stop-color="#ece8ea"/><stop offset="0.9" stop-color="#e9e3e4"/><stop offset="0.97" stop-color="#c8b2ac"/><stop offset="1" stop-color="#b8a098"/></radialGradient></defs>
<circle cx="420.6" cy="164.9" r="36.4" fill="url(#pb2)"/>
<g><circle cx="396.6" cy="143.3" r="0.63" fill="#c8bcbc" opacity="0.51"/><circle cx="417.5" cy="135.9" r="0.83" fill="#c0b4b4" opacity="0.31"/><circle cx="440.1" cy="162.0" r="0.47" fill="#c0b4b4" opacity="0.56"/><circle cx="430.3" cy="182.6" r="0.62" fill="#c0b4b4" opacity="0.37"/><circle cx="402.7" cy="188.7" r="0.83" fill="#c8bcbc" opacity="0.45"/><circle cx="428.3" cy="163.9" r="0.54" fill="#c8bcbc" opacity="0.33"/><circle cx="394.7" cy="186.8" r="0.73" fill="#c0b4b4" opacity="0.35"/><circle cx="391.2" cy="174.8" r="0.52" fill="#c0b4b4" opacity="0.40"/><circle cx="427.9" cy="158.9" r="0.78" fill="#c0b4b4" opacity="0.33"/><circle cx="425.1" cy="132.6" r="0.67" fill="#c0b4b4" opacity="0.38"/><circle cx="410.8" cy="173.3" r="0.86" fill="#c8bcbc" opacity="0.36"/><circle cx="402.9" cy="143.5" r="0.64" fill="#c8bcbc" opacity="0.46"/><circle cx="427.4" cy="178.3" r="0.55" fill="#c8bcbc" opacity="0.52"/><circle cx="439.5" cy="173.2" r="0.55" fill="#c8bcbc" opacity="0.58"/><circle cx="423.4" cy="187.7" r="0.52" fill="#c0b4b4" opacity="0.39"/><circle cx="423.9" cy="133.4" r="0.63" fill="#c0b4b4" opacity="0.43"/><circle cx="433.6" cy="143.0" r="0.47" fill="#c8bcbc" opacity="0.35"/><circle cx="410.9" cy="184.4" r="0.45" fill="#c0b4b4" opacity="0.56"/><circle cx="428.2" cy="159.0" r="0.72" fill="#c8bcbc" opacity="0.53"/><circle cx="418.6" cy="193.1" r="0.53" fill="#c8bcbc" opacity="0.48"/><circle cx="409.3" cy="157.1" r="0.81" fill="#c8bcbc" opacity="0.57"/><circle cx="443.5" cy="179.3" r="0.59" fill="#c0b4b4" opacity="0.53"/><circle cx="420.9" cy="142.5" r="0.67" fill="#c8bcbc" opacity="0.44"/><circle cx="411.9" cy="151.4" r="0.80" fill="#c8bcbc" opacity="0.32"/><circle cx="395.0" cy="180.0" r="0.65" fill="#c0b4b4" opacity="0.60"/><circle cx="415.4" cy="173.0" r="0.59" fill="#c0b4b4" opacity="0.47"/><circle cx="416.6" cy="159.6" r="0.42" fill="#c0b4b4" opacity="0.42"/><circle cx="408.6" cy="144.6" r="0.66" fill="#c0b4b4" opacity="0.41"/><circle cx="402.5" cy="177.2" r="0.80" fill="#c0b4b4" opacity="0.57"/><circle cx="392.9" cy="182.4" r="0.51" fill="#c0b4b4" opacity="0.49"/><circle cx="405.2" cy="175.0" r="0.47" fill="#c8bcbc" opacity="0.46"/><circle cx="423.4" cy="176.2" r="0.64" fill="#c0b4b4" opacity="0.51"/><circle cx="388.3" cy="163.6" r="0.59" fill="#c8bcbc" opacity="0.34"/><circle cx="405.3" cy="147.6" r="0.81" fill="#c8bcbc" opacity="0.52"/><circle cx="432.0" cy="160.8" r="0.52" fill="#c0b4b4" opacity="0.49"/><circle cx="400.5" cy="159.0" r="0.75" fill="#c0b4b4" opacity="0.45"/><circle cx="428.7" cy="180.8" r="0.44" fill="#c0b4b4" opacity="0.35"/><circle cx="435.2" cy="149.1" r="0.60" fill="#c0b4b4" opacity="0.49"/><circle cx="445.0" cy="184.4" r="0.41" fill="#c8bcbc" opacity="0.43"/><circle cx="395.6" cy="148.6" r="0.73" fill="#c8bcbc" opacity="0.32"/><circle cx="439.2" cy="142.0" r="0.71" fill="#c8bcbc" opacity="0.35"/><circle cx="429.9" cy="133.5" r="0.88" fill="#c0b4b4" opacity="0.49"/><circle cx="438.2" cy="172.7" r="0.54" fill="#c0b4b4" opacity="0.54"/><circle cx="437.4" cy="166.9" r="0.69" fill="#c8bcbc" opacity="0.42"/><circle cx="440.6" cy="157.2" r="0.74" fill="#c8bcbc" opacity="0.45"/><circle cx="398.8" cy="182.1" r="0.46" fill="#c0b4b4" opacity="0.41"/><circle cx="448.6" cy="182.2" r="0.52" fill="#c8bcbc" opacity="0.59"/><circle cx="432.8" cy="158.7" r="0.58" fill="#c0b4b4" opacity="0.51"/><circle cx="406.2" cy="165.3" r="0.57" fill="#c8bcbc" opacity="0.42"/><circle cx="405.0" cy="166.1" r="0.52" fill="#c0b4b4" opacity="0.35"/><circle cx="432.4" cy="147.7" r="0.89" fill="#c0b4b4" opacity="0.57"/><circle cx="389.5" cy="159.2" r="0.47" fill="#c0b4b4" opacity="0.40"/><circle cx="410.6" cy="181.9" r="0.76" fill="#c8bcbc" opacity="0.34"/><circle cx="444.2" cy="145.6" r="0.71" fill="#c0b4b4" opacity="0.39"/><circle cx="441.1" cy="164.9" r="0.71" fill="#c8bcbc" opacity="0.44"/><circle cx="419.9" cy="178.4" r="0.82" fill="#c8bcbc" opacity="0.53"/><circle cx="417.7" cy="183.7" r="0.75" fill="#c8bcbc" opacity="0.38"/><circle cx="450.3" cy="170.7" r="0.48" fill="#c0b4b4" opacity="0.52"/><circle cx="447.8" cy="146.7" r="0.49" fill="#c0b4b4" opacity="0.47"/><circle cx="436.6" cy="145.2" r="0.84" fill="#c8bcbc" opacity="0.50"/><circle cx="398.9" cy="142.1" r="0.84" fill="#c0b4b4" opacity="0.37"/><circle cx="432.7" cy="163.0" r="0.46" fill="#c8bcbc" opacity="0.57"/><circle cx="397.0" cy="174.0" r="0.70" fill="#c0b4b4" opacity="0.37"/><circle cx="408.7" cy="182.4" r="0.58" fill="#c0b4b4" opacity="0.59"/><circle cx="407.7" cy="157.9" r="0.58" fill="#c8bcbc" opacity="0.54"/><circle cx="410.1" cy="148.9" r="0.62" fill="#c0b4b4" opacity="0.42"/><circle cx="405.3" cy="167.7" r="0.88" fill="#c0b4b4" opacity="0.40"/><circle cx="401.2" cy="173.3" r="0.53" fill="#c8bcbc" opacity="0.34"/><circle cx="418.0" cy="138.8" r="0.45" fill="#c0b4b4" opacity="0.37"/><circle cx="418.0" cy="169.3" r="0.77" fill="#c0b4b4" opacity="0.45"/><circle cx="389.5" cy="174.4" r="0.66" fill="#c0b4b4" opacity="0.51"/><circle cx="443.1" cy="151.1" r="0.78" fill="#c8bcbc" opacity="0.53"/><circle cx="409.6" cy="136.0" r="0.82" fill="#c0b4b4" opacity="0.56"/><circle cx="449.6" cy="157.7" r="0.73" fill="#c8bcbc" opacity="0.30"/><circle cx="400.1" cy="147.0" r="0.72" fill="#c0b4b4" opacity="0.34"/><circle cx="440.8" cy="178.6" r="0.89" fill="#c0b4b4" opacity="0.56"/><circle cx="433.6" cy="186.7" r="0.52" fill="#c8bcbc" opacity="0.53"/><circle cx="443.6" cy="187.4" r="0.86" fill="#c0b4b4" opacity="0.43"/><circle cx="420.4" cy="160.9" r="0.84" fill="#c8bcbc" opacity="0.45"/><circle cx="409.1" cy="172.6" r="0.57" fill="#c8bcbc" opacity="0.40"/><circle cx="408.1" cy="181.8" r="0.84" fill="#c0b4b4" opacity="0.44"/><circle cx="439.0" cy="192.1" r="0.64" fill="#c0b4b4" opacity="0.40"/><circle cx="437.7" cy="140.1" r="0.56" fill="#c8bcbc" opacity="0.31"/><circle cx="424.3" cy="193.4" r="0.85" fill="#c8bcbc" opacity="0.49"/><circle cx="443.1" cy="155.5" r="0.83" fill="#c0b4b4" opacity="0.59"/><circle cx="399.1" cy="165.9" r="0.72" fill="#c8bcbc" opacity="0.45"/><circle cx="395.2" cy="157.6" r="0.87" fill="#c0b4b4" opacity="0.39"/><circle cx="420.6" cy="191.2" r="0.90" fill="#c0b4b4" opacity="0.32"/><circle cx="445.9" cy="181.4" r="0.54" fill="#c8bcbc" opacity="0.30"/><circle cx="419.3" cy="180.3" r="0.44" fill="#c8bcbc" opacity="0.55"/><circle cx="422.7" cy="170.4" r="0.45" fill="#c8bcbc" opacity="0.32"/><circle cx="434.5" cy="169.7" r="0.63" fill="#c0b4b4" opacity="0.36"/><circle cx="427.6" cy="194.3" r="0.64" fill="#c0b4b4" opacity="0.52"/><circle cx="416.8" cy="153.6" r="0.54" fill="#c0b4b4" opacity="0.43"/><circle cx="427.0" cy="158.8" r="0.89" fill="#c8bcbc" opacity="0.58"/><circle cx="407.2" cy="179.2" r="0.67" fill="#c0b4b4" opacity="0.53"/><circle cx="427.4" cy="132.4" r="0.68" fill="#c8bcbc" opacity="0.44"/><circle cx="450.6" cy="168.1" r="0.67" fill="#c8bcbc" opacity="0.48"/><circle cx="436.1" cy="174.9" r="0.47" fill="#c0b4b4" opacity="0.54"/><circle cx="441.1" cy="161.1" r="0.66" fill="#c0b4b4" opacity="0.38"/></g>
<g><circle cx="421.4" cy="188.9" r="0.49" fill="#6a5a5a" opacity="0.77"/><circle cx="428.9" cy="149.9" r="0.88" fill="#7a6a6a" opacity="0.65"/><circle cx="417.5" cy="139.8" r="0.75" fill="#4a3a3a" opacity="0.66"/><circle cx="406.8" cy="176.5" r="0.78" fill="#5a4a4a" opacity="0.40"/><circle cx="437.4" cy="167.9" r="0.66" fill="#6a5a5a" opacity="0.77"/><circle cx="409.7" cy="180.0" r="0.65" fill="#6a5a5a" opacity="0.76"/><circle cx="420.9" cy="159.0" r="0.93" fill="#5a4a4a" opacity="0.48"/><circle cx="448.5" cy="146.1" r="0.85" fill="#5a4a4a" opacity="0.77"/><circle cx="435.8" cy="194.9" r="0.66" fill="#7a6a6a" opacity="0.41"/><circle cx="450.0" cy="151.4" r="0.94" fill="#7a6a6a" opacity="0.57"/><circle cx="441.2" cy="150.5" r="0.50" fill="#7a6a6a" opacity="0.56"/><circle cx="395.9" cy="165.5" r="0.64" fill="#7a6a6a" opacity="0.40"/><circle cx="434.9" cy="138.4" r="0.95" fill="#5a4a4a" opacity="0.82"/><circle cx="390.1" cy="160.2" r="0.91" fill="#5a4a4a" opacity="0.77"/><circle cx="408.8" cy="186.6" r="0.88" fill="#7a6a6a" opacity="0.79"/><circle cx="391.2" cy="153.1" r="0.52" fill="#7a6a6a" opacity="0.73"/><circle cx="428.1" cy="197.5" r="0.43" fill="#7a6a6a" opacity="0.61"/><circle cx="445.5" cy="162.0" r="0.89" fill="#7a6a6a" opacity="0.53"/><circle cx="425.0" cy="140.0" r="0.89" fill="#6a5a5a" opacity="0.80"/><circle cx="438.0" cy="179.8" r="0.93" fill="#6a5a5a" opacity="0.41"/><circle cx="407.7" cy="138.8" r="0.71" fill="#4a3a3a" opacity="0.63"/><circle cx="397.4" cy="152.4" r="0.64" fill="#7a6a6a" opacity="0.60"/><circle cx="450.2" cy="168.0" r="0.55" fill="#7a6a6a" opacity="0.75"/><circle cx="394.6" cy="182.8" r="0.61" fill="#4a3a3a" opacity="0.54"/><circle cx="399.8" cy="157.7" r="0.81" fill="#5a4a4a" opacity="0.55"/><circle cx="432.7" cy="165.2" r="0.88" fill="#7a6a6a" opacity="0.50"/><circle cx="419.0" cy="186.0" r="0.71" fill="#4a3a3a" opacity="0.77"/><circle cx="439.3" cy="168.8" r="0.91" fill="#7a6a6a" opacity="0.53"/><circle cx="441.7" cy="175.2" r="0.69" fill="#6a5a5a" opacity="0.75"/><circle cx="401.6" cy="191.2" r="0.44" fill="#5a4a4a" opacity="0.62"/><circle cx="422.0" cy="194.6" r="0.50" fill="#5a4a4a" opacity="0.76"/><circle cx="444.8" cy="142.6" r="0.80" fill="#6a5a5a" opacity="0.40"/><circle cx="450.2" cy="163.1" r="0.66" fill="#7a6a6a" opacity="0.46"/><circle cx="399.7" cy="176.5" r="0.43" fill="#7a6a6a" opacity="0.61"/><circle cx="450.4" cy="180.1" r="0.46" fill="#6a5a5a" opacity="0.63"/><circle cx="437.3" cy="143.1" r="0.73" fill="#7a6a6a" opacity="0.63"/><circle cx="401.6" cy="188.6" r="0.92" fill="#5a4a4a" opacity="0.62"/><circle cx="409.0" cy="144.1" r="0.70" fill="#7a6a6a" opacity="0.48"/><circle cx="426.0" cy="179.9" r="0.49" fill="#5a4a4a" opacity="0.77"/><circle cx="437.6" cy="141.3" r="0.66" fill="#6a5a5a" opacity="0.41"/><circle cx="451.2" cy="168.0" r="0.57" fill="#4a3a3a" opacity="0.44"/><circle cx="423.0" cy="166.6" r="0.43" fill="#4a3a3a" opacity="0.73"/><circle cx="446.1" cy="179.6" r="0.77" fill="#7a6a6a" opacity="0.65"/><circle cx="414.0" cy="191.1" r="0.86" fill="#5a4a4a" opacity="0.55"/><circle cx="413.6" cy="167.3" r="0.57" fill="#5a4a4a" opacity="0.55"/><circle cx="402.4" cy="172.3" r="0.50" fill="#7a6a6a" opacity="0.81"/><circle cx="421.5" cy="131.4" r="0.91" fill="#5a4a4a" opacity="0.59"/><circle cx="444.5" cy="145.1" r="0.77" fill="#7a6a6a" opacity="0.41"/><circle cx="399.4" cy="139.4" r="0.50" fill="#5a4a4a" opacity="0.62"/><circle cx="422.2" cy="135.5" r="0.56" fill="#5a4a4a" opacity="0.68"/><circle cx="441.6" cy="168.3" r="0.57" fill="#4a3a3a" opacity="0.60"/><circle cx="423.8" cy="135.0" r="0.76" fill="#5a4a4a" opacity="0.61"/><circle cx="430.4" cy="168.7" r="0.93" fill="#5a4a4a" opacity="0.59"/><circle cx="433.4" cy="134.5" r="0.80" fill="#4a3a3a" opacity="0.48"/><circle cx="438.6" cy="136.2" r="0.77" fill="#7a6a6a" opacity="0.49"/><circle cx="442.9" cy="179.6" r="0.83" fill="#4a3a3a" opacity="0.68"/><circle cx="436.2" cy="167.8" r="0.52" fill="#5a4a4a" opacity="0.48"/><circle cx="427.8" cy="157.5" r="0.66" fill="#6a5a5a" opacity="0.40"/><circle cx="394.4" cy="143.5" r="0.45" fill="#4a3a3a" opacity="0.51"/><circle cx="393.2" cy="180.6" r="0.79" fill="#5a4a4a" opacity="0.55"/><circle cx="422.8" cy="141.6" r="0.70" fill="#5a4a4a" opacity="0.79"/><circle cx="417.1" cy="193.6" r="0.55" fill="#6a5a5a" opacity="0.40"/><circle cx="416.5" cy="181.4" r="0.90" fill="#7a6a6a" opacity="0.51"/><circle cx="409.3" cy="148.5" r="0.66" fill="#7a6a6a" opacity="0.77"/><circle cx="434.3" cy="180.2" r="0.81" fill="#4a3a3a" opacity="0.45"/><circle cx="427.7" cy="155.0" r="0.62" fill="#7a6a6a" opacity="0.79"/><circle cx="428.8" cy="166.9" r="0.46" fill="#4a3a3a" opacity="0.62"/><circle cx="411.1" cy="146.7" r="0.56" fill="#6a5a5a" opacity="0.72"/><circle cx="426.3" cy="196.7" r="0.85" fill="#7a6a6a" opacity="0.80"/><circle cx="410.7" cy="194.6" r="0.59" fill="#6a5a5a" opacity="0.72"/></g>
</g>
<text transform="translate(0.57,234.30) scale(0.9790,1)" font-size="11.00" font-weight="bold" fill="#000" stroke="#000" stroke-width="0.3" >C</text>
<line x1="48.20" y1="234.85" x2="48.20" y2="354.85" stroke="#000" stroke-width="1.6"/>
<line x1="47.40" y1="354.10" x2="227.80" y2="354.10" stroke="#000" stroke-width="1.6"/>
<line x1="44.80" y1="354.10" x2="48.20" y2="354.10" stroke="#000" stroke-width="1.4"/>
<text transform="translate(39.00,357.10) scale(0.9844,1)" font-size="8.57" font-weight="bold" fill="#000" stroke="#000" stroke-width="0.3">0</text>
<line x1="44.80" y1="330.40" x2="48.20" y2="330.40" stroke="#000" stroke-width="1.4"/>
<text transform="translate(29.55,333.40) scale(0.9844,1)" font-size="8.57" font-weight="bold" fill="#000" stroke="#000" stroke-width="0.3">100</text>
<line x1="44.80" y1="306.70" x2="48.20" y2="306.70" stroke="#000" stroke-width="1.4"/>
<text transform="translate(29.55,309.70) scale(0.9844,1)" font-size="8.57" font-weight="bold" fill="#000" stroke="#000" stroke-width="0.3">200</text>
<line x1="44.80" y1="283.00" x2="48.20" y2="283.00" stroke="#000" stroke-width="1.4"/>
<text transform="translate(29.55,286.00) scale(0.9844,1)" font-size="8.57" font-weight="bold" fill="#000" stroke="#000" stroke-width="0.3">300</text>
<line x1="44.80" y1="259.30" x2="48.20" y2="259.30" stroke="#000" stroke-width="1.4"/>
<text transform="translate(29.55,262.30) scale(0.9844,1)" font-size="8.57" font-weight="bold" fill="#000" stroke="#000" stroke-width="0.3">400</text>
<line x1="44.80" y1="235.60" x2="48.20" y2="235.60" stroke="#000" stroke-width="1.4"/>
<text transform="translate(29.55,238.60) scale(0.9844,1)" font-size="8.57" font-weight="bold" fill="#000" stroke="#000" stroke-width="0.3">500</text>
<line x1="48.05" y1="354.10" x2="48.05" y2="357.70" stroke="#000" stroke-width="1.4"/>
<text transform="translate(45.76,367.30) scale(1.1622,1)" font-size="8.43" font-weight="bold" fill="#000" stroke="#000" stroke-width="0.3">2</text>
<line x1="75.73" y1="354.10" x2="75.73" y2="357.70" stroke="#000" stroke-width="1.4"/>
<text transform="translate(73.34,367.30) scale(1.1622,1)" font-size="8.43" font-weight="bold" fill="#000" stroke="#000" stroke-width="0.3">4</text>
<line x1="103.41" y1="354.10" x2="103.41" y2="357.70" stroke="#000" stroke-width="1.4"/>
<text transform="translate(101.07,367.30) scale(1.1622,1)" font-size="8.43" font-weight="bold" fill="#000" stroke="#000" stroke-width="0.3">6</text>
<line x1="131.09" y1="354.10" x2="131.09" y2="357.70" stroke="#000" stroke-width="1.4"/>
<text transform="translate(128.75,367.30) scale(1.1622,1)" font-size="8.43" font-weight="bold" fill="#000" stroke="#000" stroke-width="0.3">8</text>
<line x1="158.77" y1="354.10" x2="158.77" y2="357.70" stroke="#000" stroke-width="1.4"/>
<text transform="translate(153.64,367.30) scale(1.1622,1)" font-size="8.43" font-weight="bold" fill="#000" stroke="#000" stroke-width="0.3">10</text>
<line x1="186.45" y1="354.10" x2="186.45" y2="357.70" stroke="#000" stroke-width="1.4"/>
<text transform="translate(181.32,367.30) scale(1.1622,1)" font-size="8.43" font-weight="bold" fill="#000" stroke="#000" stroke-width="0.3">12</text>
<line x1="214.13" y1="354.10" x2="214.13" y2="357.70" stroke="#000" stroke-width="1.4"/>
<text transform="translate(208.80,367.30) scale(1.1622,1)" font-size="8.43" font-weight="bold" fill="#000" stroke="#000" stroke-width="0.3">14</text>
<text transform="translate(95.11,380.30) scale(1.0066,1)" font-size="9.73" font-weight="bold" fill="#000" stroke="#000" stroke-width="0.3" >Days Post Implant</text>
<text transform="translate(23.00,343.50) rotate(-90) scale(1.0027,1)" font-size="9.80" font-weight="bold" fill="#000" stroke="#000" stroke-width="0.3">Tumor Volume (mm<tspan font-size="70%" dy="-0.75em">3</tspan><tspan dy="0.525em">)</tspan></text>
<rect x="58.50" y="233.50" width="103.00" height="49.40" fill="none" stroke="#333" stroke-width="1.1"/>
<line x1="103.41" y1="352.39" x2="103.41" y2="353.82" stroke="#701212" stroke-width="1.8"/>
<line x1="100.51" y1="352.39" x2="106.31" y2="352.39" stroke="#701212" stroke-width="1.8"/>
<line x1="100.51" y1="353.82" x2="106.31" y2="353.82" stroke="#701212" stroke-width="1.8"/>
<line x1="117.25" y1="351.40" x2="117.25" y2="352.82" stroke="#701212" stroke-width="1.8"/>
<line x1="114.35" y1="351.40" x2="120.15" y2="351.40" stroke="#701212" stroke-width="1.8"/>
<line x1="114.35" y1="352.82" x2="120.15" y2="352.82" stroke="#701212" stroke-width="1.8"/>
<line x1="131.09" y1="351.18" x2="131.09" y2="352.61" stroke="#701212" stroke-width="1.8"/>
<line x1="128.19" y1="351.18" x2="133.99" y2="351.18" stroke="#701212" stroke-width="1.8"/>
<line x1="128.19" y1="352.61" x2="133.99" y2="352.61" stroke="#701212" stroke-width="1.8"/>
<line x1="144.93" y1="350.50" x2="144.93" y2="351.92" stroke="#701212" stroke-width="1.8"/>
<line x1="142.03" y1="350.50" x2="147.83" y2="350.50" stroke="#701212" stroke-width="1.8"/>
<line x1="142.03" y1="351.92" x2="147.83" y2="351.92" stroke="#701212" stroke-width="1.8"/>
<line x1="158.77" y1="348.86" x2="158.77" y2="350.76" stroke="#701212" stroke-width="1.8"/>
<line x1="155.87" y1="348.86" x2="161.67" y2="348.86" stroke="#701212" stroke-width="1.8"/>
<line x1="155.87" y1="350.76" x2="161.67" y2="350.76" stroke="#701212" stroke-width="1.8"/>
<line x1="172.61" y1="344.62" x2="172.61" y2="349.60" stroke="#701212" stroke-width="1.8"/>
<line x1="169.71" y1="344.62" x2="175.51" y2="344.62" stroke="#701212" stroke-width="1.8"/>
<line x1="169.71" y1="349.60" x2="175.51" y2="349.60" stroke="#701212" stroke-width="1.8"/>
<line x1="186.45" y1="342.25" x2="186.45" y2="349.36" stroke="#701212" stroke-width="1.8"/>
<line x1="183.55" y1="342.25" x2="189.35" y2="342.25" stroke="#701212" stroke-width="1.8"/>
<line x1="183.55" y1="349.36" x2="189.35" y2="349.36" stroke="#701212" stroke-width="1.8"/>
<line x1="200.29" y1="338.43" x2="200.29" y2="348.20" stroke="#701212" stroke-width="1.8"/>
<line x1="197.39" y1="338.43" x2="203.19" y2="338.43" stroke="#701212" stroke-width="1.8"/>
<line x1="197.39" y1="348.20" x2="203.19" y2="348.20" stroke="#701212" stroke-width="1.8"/>
<line x1="214.13" y1="335.52" x2="214.13" y2="346.61" stroke="#701212" stroke-width="1.8"/>
<line x1="211.23" y1="335.52" x2="217.03" y2="335.52" stroke="#701212" stroke-width="1.8"/>
<line x1="211.23" y1="346.61" x2="217.03" y2="346.61" stroke="#701212" stroke-width="1.8"/>
<polyline points="75.73,351.49 89.57,352.30 103.41,353.10 117.25,352.11 131.09,351.90 144.93,351.21 158.77,349.81 172.61,347.11 186.45,345.81 200.29,343.32 214.13,341.06" fill="none" stroke="#701212" stroke-width="1.7"/>
<rect x="73.43" y="349.19" width="4.6" height="4.6" fill="#8e1418"/>
<rect x="87.27" y="350.00" width="4.6" height="4.6" fill="#8e1418"/>
<rect x="101.11" y="350.80" width="4.6" height="4.6" fill="#8e1418"/>
<rect x="114.95" y="349.81" width="4.6" height="4.6" fill="#8e1418"/>
<rect x="128.79" y="349.60" width="4.6" height="4.6" fill="#8e1418"/>
<rect x="142.63" y="348.91" width="4.6" height="4.6" fill="#8e1418"/>
<rect x="156.47" y="347.51" width="4.6" height="4.6" fill="#8e1418"/>
<rect x="170.31" y="344.81" width="4.6" height="4.6" fill="#8e1418"/>
<rect x="184.15" y="343.50" width="4.6" height="4.6" fill="#8e1418"/>
<rect x="197.99" y="341.02" width="4.6" height="4.6" fill="#8e1418"/>
<rect x="211.83" y="338.76" width="4.6" height="4.6" fill="#8e1418"/>
<line x1="117.25" y1="335.66" x2="117.25" y2="341.35" stroke="#16169c" stroke-width="1.8"/>
<line x1="114.35" y1="335.66" x2="120.15" y2="335.66" stroke="#16169c" stroke-width="1.8"/>
<line x1="114.35" y1="341.35" x2="120.15" y2="341.35" stroke="#16169c" stroke-width="1.8"/>
<line x1="131.09" y1="331.94" x2="131.09" y2="340.47" stroke="#16169c" stroke-width="1.8"/>
<line x1="128.19" y1="331.94" x2="133.99" y2="331.94" stroke="#16169c" stroke-width="1.8"/>
<line x1="128.19" y1="340.47" x2="133.99" y2="340.47" stroke="#16169c" stroke-width="1.8"/>
<line x1="144.93" y1="328.74" x2="144.93" y2="336.80" stroke="#16169c" stroke-width="1.8"/>
<line x1="142.03" y1="328.74" x2="147.83" y2="328.74" stroke="#16169c" stroke-width="1.8"/>
<line x1="142.03" y1="336.80" x2="147.83" y2="336.80" stroke="#16169c" stroke-width="1.8"/>
<line x1="158.77" y1="315.23" x2="158.77" y2="326.61" stroke="#16169c" stroke-width="1.8"/>
<line x1="155.87" y1="315.23" x2="161.67" y2="315.23" stroke="#16169c" stroke-width="1.8"/>
<line x1="155.87" y1="326.61" x2="161.67" y2="326.61" stroke="#16169c" stroke-width="1.8"/>
<line x1="172.61" y1="306.23" x2="172.61" y2="317.84" stroke="#16169c" stroke-width="1.8"/>
<line x1="169.71" y1="306.23" x2="175.51" y2="306.23" stroke="#16169c" stroke-width="1.8"/>
<line x1="169.71" y1="317.84" x2="175.51" y2="317.84" stroke="#16169c" stroke-width="1.8"/>
<line x1="186.45" y1="285.49" x2="186.45" y2="301.60" stroke="#16169c" stroke-width="1.8"/>
<line x1="183.55" y1="285.49" x2="189.35" y2="285.49" stroke="#16169c" stroke-width="1.8"/>
<line x1="183.55" y1="301.60" x2="189.35" y2="301.60" stroke="#16169c" stroke-width="1.8"/>
<line x1="200.29" y1="276.60" x2="200.29" y2="296.51" stroke="#16169c" stroke-width="1.8"/>
<line x1="197.39" y1="276.60" x2="203.19" y2="276.60" stroke="#16169c" stroke-width="1.8"/>
<line x1="197.39" y1="296.51" x2="203.19" y2="296.51" stroke="#16169c" stroke-width="1.8"/>
<line x1="214.13" y1="256.22" x2="214.13" y2="281.81" stroke="#16169c" stroke-width="1.8"/>
<line x1="211.23" y1="256.22" x2="217.03" y2="256.22" stroke="#16169c" stroke-width="1.8"/>
<line x1="211.23" y1="281.81" x2="217.03" y2="281.81" stroke="#16169c" stroke-width="1.8"/>
<polyline points="75.73,342.56 89.57,342.20 103.41,341.80 117.25,338.51 131.09,336.21 144.93,332.77 158.77,320.92 172.61,312.03 186.45,293.55 200.29,286.56 214.13,269.02" fill="none" stroke="#16169c" stroke-width="1.7"/>
<circle cx="75.73" cy="342.56" r="2.5" fill="#1414c0"/>
<circle cx="89.57" cy="342.20" r="2.5" fill="#1414c0"/>
<circle cx="103.41" cy="341.80" r="2.5" fill="#1414c0"/>
<circle cx="117.25" cy="338.51" r="2.5" fill="#1414c0"/>
<circle cx="131.09" cy="336.21" r="2.5" fill="#1414c0"/>
<circle cx="144.93" cy="332.77" r="2.5" fill="#1414c0"/>
<circle cx="158.77" cy="320.92" r="2.5" fill="#1414c0"/>
<circle cx="172.61" cy="312.03" r="2.5" fill="#1414c0"/>
<circle cx="186.45" cy="293.55" r="2.5" fill="#1414c0"/>
<circle cx="200.29" cy="286.56" r="2.5" fill="#1414c0"/>
<circle cx="214.13" cy="269.02" r="2.5" fill="#1414c0"/>
<line x1="66.00" y1="246.60" x2="80.00" y2="246.60" stroke="#16169c" stroke-width="1.7"/>
<circle cx="73" cy="246.6" r="2.4" fill="#1414c0"/>
<line x1="66.00" y1="260.20" x2="80.00" y2="260.20" stroke="#701212" stroke-width="1.7"/>
<rect x="70.7" y="257.9" width="4.6" height="4.6" fill="#8e1418"/>
<text transform="translate(87.30,249.30) scale(1.0000,1)" font-size="9.80" font-weight="normal" fill="#000" stroke="#000" stroke-width="0.45">Vehicle</text>
<text transform="translate(87.20,262.80) scale(1.0000,1)" font-size="9.80" font-weight="normal" fill="#000" stroke="#000" stroke-width="0.45">TEPP-46</text>
<text transform="translate(86.81,275.00) scale(1.0100,1)" font-size="9.80" font-weight="normal" fill="#000" stroke="#000" stroke-width="0.45">(50 mg/kg BID)</text>
<polygon points="211.32,246.21 212.32,247.94 214.27,248.36 212.94,249.84 213.14,251.83 211.32,251.02 209.49,251.83 209.70,249.84 208.37,248.36 210.32,247.94" fill="#000"/>
<polygon points="216.58,246.21 217.58,247.94 219.53,248.36 218.20,249.84 218.41,251.83 216.58,251.02 214.76,251.83 214.96,249.84 213.63,248.36 215.58,247.94" fill="#000"/>
<text transform="translate(276.54,234.40) scale(1.0605,1)" font-size="11.59" font-weight="bold" fill="#000" stroke="#000" stroke-width="0.3" >D</text>
<defs><linearGradient id="dbg" x1="0" y1="0" x2="0" y2="1"><stop offset="0" stop-color="#fcfcfc"/><stop offset="0.5" stop-color="#f8f8f8"/><stop offset="0.85" stop-color="#f0f0f0"/><stop offset="1" stop-color="#e0e0e0"/></linearGradient><linearGradient id="dbg2" x1="0" y1="0" x2="1" y2="0"><stop offset="0" stop-color="#e6e6e6" stop-opacity="0.5"/><stop offset="0.06" stop-color="#f4f4f4" stop-opacity="0"/><stop offset="0.9" stop-color="#f0f0f0" stop-opacity="0"/><stop offset="1" stop-color="#e2e2e2" stop-opacity="0.6"/></linearGradient><radialGradient id="tu1" cx="0.45" cy="0.4" r="0.6"><stop offset="0" stop-color="#eed4ba"/><stop offset="0.7" stop-color="#dfbea0"/><stop offset="1" stop-color="#c8a488"/></radialGradient><radialGradient id="tu2" cx="0.5" cy="0.45" r="0.6"><stop offset="0" stop-color="#e09080"/><stop offset="0.4" stop-color="#e8c0a8"/><stop offset="1" stop-color="#dcb498"/></radialGradient><radialGradient id="tu3" cx="0.45" cy="0.4" r="0.6"><stop offset="0" stop-color="#ecc8b0"/><stop offset="0.7" stop-color="#e2b8a0"/><stop offset="1" stop-color="#cc9c84"/></radialGradient><radialGradient id="tu5" cx="0.45" cy="0.45" r="0.6"><stop offset="0" stop-color="#c88c6c"/><stop offset="0.7" stop-color="#dca88c"/><stop offset="1" stop-color="#f0d0bc"/></radialGradient></defs>
<g filter="url(#soft)">
<rect x="310.00" y="256.50" width="155.60" height="91.20" fill="url(#dbg)"/>
<rect x="310.00" y="256.50" width="155.60" height="91.20" fill="url(#dbg2)"/>
<ellipse cx="328.7" cy="279.7" rx="6.6" ry="11.6" transform="rotate(-40 328.7 279.7)" fill="#5a4038" opacity="0.8"/>
<ellipse cx="327.7" cy="278.7" rx="6.6" ry="11.6" transform="rotate(-40 327.7 278.7)" fill="url(#tu1)"/>
<path d="M385 266 L391 263.5 L397 265 L400.5 270 L400.5 281 L398 287 L391 289 L385 286 L382.5 279 L383 271 Z" fill="#604444" transform="translate(1.0,0.5)"/>
<path d="M385 266 L391 263.5 L397 265 L399.5 270 L399 281 L396.5 287 L390 288.5 L384.5 285.5 L382.5 279 L383 271 Z" fill="url(#tu2)"/>
<path d="M433 270 Q437 266.5 441 269.5 Q446 266.5 450 270 Q453 275 450 282 L445 290 Q441 294 438 291 L433 284 Q429.5 277 433 270 Z" fill="#503434" transform="translate(1.2,1.0)"/>
<path d="M433 270 Q437 266.5 441 269.5 Q446 266.5 450 270 Q452.5 275 449.5 282 L444.5 289.5 Q441 292.5 438 290 L433 284 Q429.5 277 433 270 Z" fill="url(#tu3)"/>
<ellipse cx="332" cy="328.6" rx="3.4" ry="4.4" fill="#f2d8c4" transform="rotate(-15 332 328.6)"/>
<ellipse cx="332.2" cy="328.9" rx="2.2" ry="3.3" fill="#7a665c" transform="rotate(-15 332.2 328.9)"/>
<ellipse cx="391.2" cy="332.6" rx="6.0" ry="7.4" fill="url(#tu5)" transform="rotate(-25 391.2 332.6)"/>
<ellipse cx="437.8" cy="330.9" rx="3.2" ry="2.9" fill="#c4c0ac"/>
<ellipse cx="437.2" cy="330.6" rx="1.6" ry="1.5" fill="#9a9888"/>
</g>
<text transform="translate(468.16,281.70) scale(1.0045,1)" font-size="14.38" font-weight="normal" fill="#111" stroke="#111" stroke-width="0.45" >Vehicle</text>
<text transform="translate(468.04,337.80) scale(0.9260,1)" font-size="13.86" font-weight="normal" fill="#111" stroke="#111" stroke-width="0.45" >TEPP-46</text>
<text transform="translate(0.34,398.50) scale(0.9056,1)" font-size="12.03" font-weight="bold" fill="#000" stroke="#000" stroke-width="0.3" >E</text>
<line x1="45.80" y1="417.75" x2="45.80" y2="538.55" stroke="#000" stroke-width="1.6"/>
<line x1="45.00" y1="537.80" x2="227.20" y2="537.80" stroke="#000" stroke-width="1.6"/>
<line x1="42.30" y1="537.80" x2="45.80" y2="537.80" stroke="#000" stroke-width="1.4"/>
<text transform="translate(36.61,540.85) scale(0.9888,1)" font-size="8.71" font-weight="bold" fill="#000" stroke="#000" stroke-width="0.3">0</text>
<line x1="42.30" y1="517.92" x2="45.80" y2="517.92" stroke="#000" stroke-width="1.4"/>
<text transform="translate(26.96,520.97) scale(0.9888,1)" font-size="8.71" font-weight="bold" fill="#000" stroke="#000" stroke-width="0.3">100</text>
<line x1="42.30" y1="498.03" x2="45.80" y2="498.03" stroke="#000" stroke-width="1.4"/>
<text transform="translate(26.96,501.08) scale(0.9888,1)" font-size="8.71" font-weight="bold" fill="#000" stroke="#000" stroke-width="0.3">200</text>
<line x1="42.30" y1="478.15" x2="45.80" y2="478.15" stroke="#000" stroke-width="1.4"/>
<text transform="translate(26.96,481.20) scale(0.9888,1)" font-size="8.71" font-weight="bold" fill="#000" stroke="#000" stroke-width="0.3">300</text>
<line x1="42.30" y1="458.27" x2="45.80" y2="458.27" stroke="#000" stroke-width="1.4"/>
<text transform="translate(26.96,461.32) scale(0.9888,1)" font-size="8.71" font-weight="bold" fill="#000" stroke="#000" stroke-width="0.3">400</text>
<line x1="42.30" y1="438.38" x2="45.80" y2="438.38" stroke="#000" stroke-width="1.4"/>
<text transform="translate(26.96,441.43) scale(0.9888,1)" font-size="8.71" font-weight="bold" fill="#000" stroke="#000" stroke-width="0.3">500</text>
<line x1="42.30" y1="418.50" x2="45.80" y2="418.50" stroke="#000" stroke-width="1.4"/>
<text transform="translate(26.96,421.55) scale(0.9888,1)" font-size="8.71" font-weight="bold" fill="#000" stroke="#000" stroke-width="0.3">600</text>
<line x1="45.90" y1="537.80" x2="45.90" y2="541.30" stroke="#000" stroke-width="1.4"/>
<text transform="translate(43.69,550.50) scale(1.0777,1)" font-size="8.14" font-weight="bold" fill="#000" stroke="#000" stroke-width="0.3">2</text>
<line x1="65.90" y1="537.80" x2="65.90" y2="541.30" stroke="#000" stroke-width="1.4"/>
<text transform="translate(63.73,550.50) scale(1.0777,1)" font-size="8.14" font-weight="bold" fill="#000" stroke="#000" stroke-width="0.3">3</text>
<line x1="85.90" y1="537.80" x2="85.90" y2="541.30" stroke="#000" stroke-width="1.4"/>
<text transform="translate(83.60,550.50) scale(1.0777,1)" font-size="8.14" font-weight="bold" fill="#000" stroke="#000" stroke-width="0.3">4</text>
<line x1="105.90" y1="537.80" x2="105.90" y2="541.30" stroke="#000" stroke-width="1.4"/>
<text transform="translate(103.64,550.50) scale(1.0777,1)" font-size="8.14" font-weight="bold" fill="#000" stroke="#000" stroke-width="0.3">5</text>
<line x1="125.90" y1="537.80" x2="125.90" y2="541.30" stroke="#000" stroke-width="1.4"/>
<text transform="translate(123.64,550.50) scale(1.0777,1)" font-size="8.14" font-weight="bold" fill="#000" stroke="#000" stroke-width="0.3">6</text>
<line x1="145.90" y1="537.80" x2="145.90" y2="541.30" stroke="#000" stroke-width="1.4"/>
<text transform="translate(143.69,550.50) scale(1.0777,1)" font-size="8.14" font-weight="bold" fill="#000" stroke="#000" stroke-width="0.3">7</text>
<line x1="165.90" y1="537.80" x2="165.90" y2="541.30" stroke="#000" stroke-width="1.4"/>
<text transform="translate(163.64,550.50) scale(1.0777,1)" font-size="8.14" font-weight="bold" fill="#000" stroke="#000" stroke-width="0.3">8</text>
<line x1="185.90" y1="537.80" x2="185.90" y2="541.30" stroke="#000" stroke-width="1.4"/>
<text transform="translate(183.64,550.50) scale(1.0777,1)" font-size="8.14" font-weight="bold" fill="#000" stroke="#000" stroke-width="0.3">9</text>
<line x1="205.90" y1="537.80" x2="205.90" y2="541.30" stroke="#000" stroke-width="1.4"/>
<text transform="translate(201.14,550.50) scale(1.0777,1)" font-size="8.14" font-weight="bold" fill="#000" stroke="#000" stroke-width="0.3">10</text>
<line x1="225.90" y1="537.80" x2="225.90" y2="541.30" stroke="#000" stroke-width="1.4"/>
<text transform="translate(221.32,550.50) scale(1.0777,1)" font-size="8.14" font-weight="bold" fill="#000" stroke="#000" stroke-width="0.3">11</text>
<text transform="translate(93.32,563.40) scale(1.0764,1)" font-size="9.04" font-weight="bold" fill="#000" stroke="#000" stroke-width="0.3" >Days Post Implant</text>
<text transform="translate(20.60,527.10) rotate(-90) scale(0.9604,1)" font-size="10.30" font-weight="bold" fill="#000" stroke="#000" stroke-width="0.3">Tumor Volume (mm<tspan font-size="70%" dy="-0.75em">3</tspan><tspan dy="0.525em">)</tspan></text>
<rect x="52.50" y="416.00" width="88.40" height="33.80" fill="none" stroke="#333" stroke-width="1.1"/>
<line x1="65.90" y1="534.42" x2="65.90" y2="536.41" stroke="#701212" stroke-width="1.8"/>
<line x1="62.90" y1="534.42" x2="68.90" y2="534.42" stroke="#701212" stroke-width="1.8"/>
<line x1="62.90" y1="536.41" x2="68.90" y2="536.41" stroke="#701212" stroke-width="1.8"/>
<line x1="105.90" y1="535.41" x2="105.90" y2="536.61" stroke="#701212" stroke-width="1.8"/>
<line x1="102.90" y1="535.41" x2="108.90" y2="535.41" stroke="#701212" stroke-width="1.8"/>
<line x1="102.90" y1="536.61" x2="108.90" y2="536.61" stroke="#701212" stroke-width="1.8"/>
<line x1="145.90" y1="530.90" x2="145.90" y2="532.89" stroke="#701212" stroke-width="1.8"/>
<line x1="142.90" y1="530.90" x2="148.90" y2="530.90" stroke="#701212" stroke-width="1.8"/>
<line x1="142.90" y1="532.89" x2="148.90" y2="532.89" stroke="#701212" stroke-width="1.8"/>
<line x1="165.90" y1="520.30" x2="165.90" y2="532.63" stroke="#701212" stroke-width="1.8"/>
<line x1="162.90" y1="520.30" x2="168.90" y2="520.30" stroke="#701212" stroke-width="1.8"/>
<line x1="162.90" y1="532.63" x2="168.90" y2="532.63" stroke="#701212" stroke-width="1.8"/>
<line x1="185.90" y1="518.31" x2="185.90" y2="532.63" stroke="#701212" stroke-width="1.8"/>
<line x1="182.90" y1="518.31" x2="188.90" y2="518.31" stroke="#701212" stroke-width="1.8"/>
<line x1="182.90" y1="532.63" x2="188.90" y2="532.63" stroke="#701212" stroke-width="1.8"/>
<line x1="205.90" y1="504.79" x2="205.90" y2="529.85" stroke="#701212" stroke-width="1.8"/>
<line x1="202.90" y1="504.79" x2="208.90" y2="504.79" stroke="#701212" stroke-width="1.8"/>
<line x1="202.90" y1="529.85" x2="208.90" y2="529.85" stroke="#701212" stroke-width="1.8"/>
<polyline points="65.90,535.41 105.90,536.01 145.90,531.89 165.90,526.47 185.90,525.47 205.90,517.32" fill="none" stroke="#701212" stroke-width="1.7"/>
<rect x="63.40" y="532.91" width="5.0" height="5.0" fill="#8e1418"/>
<rect x="103.40" y="533.51" width="5.0" height="5.0" fill="#8e1418"/>
<rect x="143.40" y="529.39" width="5.0" height="5.0" fill="#8e1418"/>
<rect x="163.40" y="523.97" width="5.0" height="5.0" fill="#8e1418"/>
<rect x="183.40" y="522.97" width="5.0" height="5.0" fill="#8e1418"/>
<rect x="203.40" y="514.82" width="5.0" height="5.0" fill="#8e1418"/>
<line x1="145.90" y1="498.03" x2="145.90" y2="511.95" stroke="#16169c" stroke-width="1.8"/>
<line x1="142.90" y1="498.03" x2="148.90" y2="498.03" stroke="#16169c" stroke-width="1.8"/>
<line x1="142.90" y1="511.95" x2="148.90" y2="511.95" stroke="#16169c" stroke-width="1.8"/>
<line x1="165.90" y1="477.16" x2="165.90" y2="493.86" stroke="#16169c" stroke-width="1.8"/>
<line x1="162.90" y1="477.16" x2="168.90" y2="477.16" stroke="#16169c" stroke-width="1.8"/>
<line x1="162.90" y1="493.86" x2="168.90" y2="493.86" stroke="#16169c" stroke-width="1.8"/>
<line x1="185.90" y1="442.56" x2="185.90" y2="465.62" stroke="#16169c" stroke-width="1.8"/>
<line x1="182.90" y1="442.56" x2="188.90" y2="442.56" stroke="#16169c" stroke-width="1.8"/>
<line x1="182.90" y1="465.62" x2="188.90" y2="465.62" stroke="#16169c" stroke-width="1.8"/>
<line x1="205.90" y1="431.03" x2="205.90" y2="456.48" stroke="#16169c" stroke-width="1.8"/>
<line x1="202.90" y1="431.03" x2="208.90" y2="431.03" stroke="#16169c" stroke-width="1.8"/>
<line x1="202.90" y1="456.48" x2="208.90" y2="456.48" stroke="#16169c" stroke-width="1.8"/>
<polyline points="65.90,528.26 105.90,529.25 145.90,504.99 165.90,485.51 185.90,454.09 205.90,443.75" fill="none" stroke="#16169c" stroke-width="1.7"/>
<circle cx="65.90" cy="528.26" r="2.6" fill="#1414c0"/>
<circle cx="105.90" cy="529.25" r="2.6" fill="#1414c0"/>
<circle cx="145.90" cy="504.99" r="2.6" fill="#1414c0"/>
<circle cx="165.90" cy="485.51" r="2.6" fill="#1414c0"/>
<circle cx="185.90" cy="454.09" r="2.6" fill="#1414c0"/>
<circle cx="205.90" cy="443.75" r="2.6" fill="#1414c0"/>
<line x1="56.30" y1="426.60" x2="69.50" y2="426.60" stroke="#16169c" stroke-width="1.7"/>
<circle cx="63" cy="426.6" r="2.4" fill="#1414c0"/>
<line x1="56.30" y1="440.70" x2="69.50" y2="440.70" stroke="#701212" stroke-width="1.7"/>
<rect x="60.7" y="438.4" width="4.6" height="4.6" fill="#8e1418"/>
<text transform="translate(76.00,430.10) scale(1.0000,1)" font-size="9.95" font-weight="normal" fill="#000" stroke="#000" stroke-width="0.45">PKM2 WT</text>
<text transform="translate(76.00,443.50) scale(1.0000,1)" font-size="9.95" font-weight="normal" fill="#000" stroke="#000" stroke-width="0.45">PKM2 Y105F</text>
<polygon points="202.96,420.36 203.90,421.97 205.72,422.36 204.48,423.75 204.67,425.60 202.96,424.85 201.26,425.60 201.44,423.75 200.20,422.36 202.02,421.97" fill="#000"/>
<polygon points="208.24,420.36 209.18,421.97 211.00,422.36 209.76,423.75 209.94,425.60 208.24,424.85 206.53,425.60 206.72,423.75 205.48,422.36 207.30,421.97" fill="#000"/>
<text transform="translate(276.32,398.50) scale(1.0602,1)" font-size="11.88" font-weight="bold" fill="#000" stroke="#000" stroke-width="0.3" >F</text>
<line x1="374.00" y1="413.10" x2="374.00" y2="540.50" stroke="#000" stroke-width="1.7"/>
<line x1="373.15" y1="539.70" x2="482.60" y2="539.70" stroke="#000" stroke-width="1.7"/>
<line x1="370.80" y1="539.70" x2="374.00" y2="539.70" stroke="#000" stroke-width="1.5"/>
<text transform="translate(350.52,542.80) scale(1.0585,1)" font-size="8.86" font-weight="bold" fill="#000" stroke="#000" stroke-width="0.3">-200</text>
<line x1="370.80" y1="514.54" x2="374.00" y2="514.54" stroke="#000" stroke-width="1.5"/>
<text transform="translate(364.12,517.64) scale(1.0585,1)" font-size="8.86" font-weight="bold" fill="#000" stroke="#000" stroke-width="0.3">0</text>
<line x1="370.80" y1="489.38" x2="374.00" y2="489.38" stroke="#000" stroke-width="1.5"/>
<text transform="translate(353.62,492.48) scale(1.0585,1)" font-size="8.86" font-weight="bold" fill="#000" stroke="#000" stroke-width="0.3">200</text>
<line x1="370.80" y1="464.22" x2="374.00" y2="464.22" stroke="#000" stroke-width="1.5"/>
<text transform="translate(353.62,467.32) scale(1.0585,1)" font-size="8.86" font-weight="bold" fill="#000" stroke="#000" stroke-width="0.3">400</text>
<line x1="370.80" y1="439.06" x2="374.00" y2="439.06" stroke="#000" stroke-width="1.5"/>
<text transform="translate(353.62,442.16) scale(1.0585,1)" font-size="8.86" font-weight="bold" fill="#000" stroke="#000" stroke-width="0.3">600</text>
<line x1="370.80" y1="413.90" x2="374.00" y2="413.90" stroke="#000" stroke-width="1.5"/>
<text transform="translate(353.62,417.00) scale(1.0585,1)" font-size="8.86" font-weight="bold" fill="#000" stroke="#000" stroke-width="0.3">800</text>
<line x1="401.30" y1="539.70" x2="401.30" y2="543.10" stroke="#000" stroke-width="1.5"/>
<line x1="454.90" y1="539.70" x2="454.90" y2="543.10" stroke="#000" stroke-width="1.5"/>
<text transform="translate(393.80,553.20) scale(0.9713,1)" font-size="9.57" font-weight="bold" fill="#000" stroke="#000" stroke-width="0.3" >WT</text>
<text transform="translate(441.01,553.20) scale(1.0202,1)" font-size="9.43" font-weight="bold" fill="#000" stroke="#000" stroke-width="0.3" >Y105F</text>
<text transform="translate(347.00,526.70) rotate(-90) scale(1.0546,1)" font-size="9.70" font-weight="bold" fill="#000" stroke="#000" stroke-width="0.3">Tumor Volume (mm<tspan font-size="70%" dy="-0.75em">3</tspan><tspan dy="0.525em">)</tspan></text>
<line x1="399.00" y1="410.40" x2="456.10" y2="410.40" stroke="#000" stroke-width="1.9"/>
<line x1="399.00" y1="405.30" x2="399.00" y2="415.70" stroke="#000" stroke-width="1.8"/>
<line x1="456.10" y1="405.30" x2="456.10" y2="415.70" stroke="#000" stroke-width="1.8"/>
<polygon points="424.12,401.28 425.17,403.08 427.20,403.52 425.82,405.07 426.03,407.14 424.12,406.30 422.22,407.14 422.43,405.07 421.04,403.52 423.08,403.08" fill="#000"/>
<polygon points="430.78,401.28 431.82,403.08 433.86,403.52 432.47,405.07 432.68,407.14 430.78,406.30 428.87,407.14 429.08,405.07 427.70,403.52 429.73,403.08" fill="#000"/>
<circle cx="401.1" cy="426.86" r="3.7" fill="#1010b4"/>
<circle cx="395.4" cy="452.90" r="3.7" fill="#1010b4"/>
<circle cx="407" cy="452.90" r="3.7" fill="#1010b4"/>
<circle cx="407" cy="466.11" r="3.7" fill="#1010b4"/>
<circle cx="395.4" cy="473.91" r="3.7" fill="#1010b4"/>
<line x1="401.30" y1="432.39" x2="401.30" y2="477.18" stroke="#000" stroke-width="1.9"/>
<line x1="392.20" y1="432.39" x2="410.20" y2="432.39" stroke="#000" stroke-width="1.9"/>
<line x1="392.20" y1="477.18" x2="410.20" y2="477.18" stroke="#000" stroke-width="1.9"/>
<line x1="383.10" y1="454.91" x2="419.10" y2="454.91" stroke="#000" stroke-width="1.9"/>
<circle cx="454.9" cy="472.90" r="3.7" fill="#8e1418"/>
<circle cx="454.9" cy="498.31" r="3.7" fill="#8e1418"/>
<circle cx="443.7" cy="510.39" r="3.7" fill="#8e1418"/>
<circle cx="454.9" cy="514.54" r="3.7" fill="#8e1418"/>
<circle cx="466.1" cy="512.40" r="3.7" fill="#8e1418"/>
<line x1="454.90" y1="480.32" x2="454.90" y2="523.09" stroke="#000" stroke-width="1.9"/>
<line x1="446.50" y1="480.32" x2="463.90" y2="480.32" stroke="#000" stroke-width="1.9"/>
<line x1="446.50" y1="523.09" x2="463.90" y2="523.09" stroke="#000" stroke-width="1.9"/>
<line x1="437.10" y1="501.46" x2="472.70" y2="501.46" stroke="#000" stroke-width="1.9"/>
</svg></body></html>
